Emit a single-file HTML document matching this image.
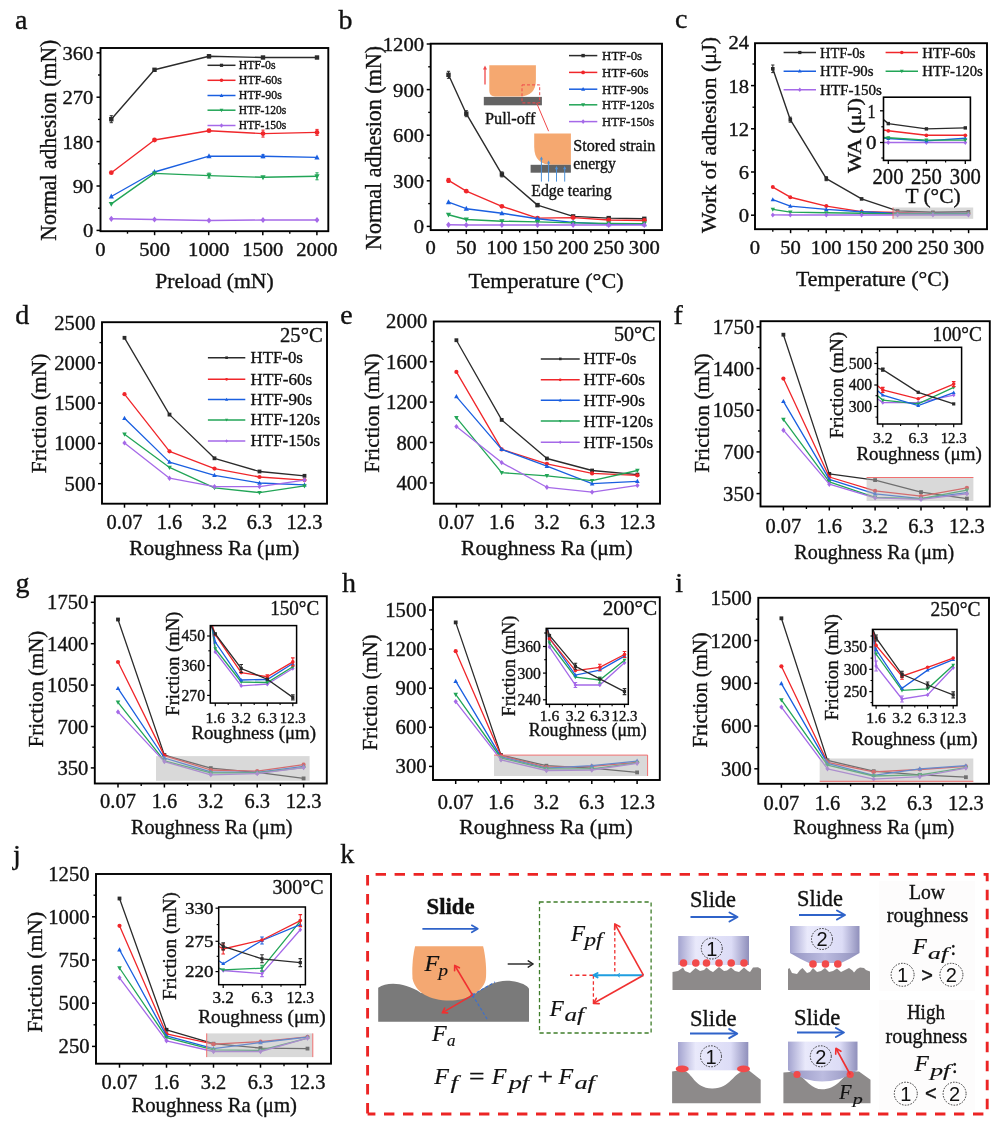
<!DOCTYPE html>
<html><head><meta charset="utf-8"><style>
html,body{margin:0;padding:0;background:#fff;}
svg{display:block;}
text{font-family:"Liberation Serif", "Times New Roman", serif;stroke:#111;stroke-width:0.35px;paint-order:stroke;}
</style></head><body>
<svg width="1000" height="1130" viewBox="0 0 1000 1130">
<rect width="1000" height="1130" fill="#fff"/>
<text x="15.0" y="29.4" font-size="28" text-anchor="start" fill="#111">a</text>
<rect x="100.5" y="48.0" width="227.8" height="183.2" fill="none" stroke="#000" stroke-width="1.9"/>
<line x1="96.5" y1="52.8" x2="100.5" y2="52.8" stroke="#000" stroke-width="1.5"/>
<line x1="96.5" y1="97.2" x2="100.5" y2="97.2" stroke="#000" stroke-width="1.5"/>
<line x1="96.5" y1="141.6" x2="100.5" y2="141.6" stroke="#000" stroke-width="1.5"/>
<line x1="96.5" y1="186.0" x2="100.5" y2="186.0" stroke="#000" stroke-width="1.5"/>
<line x1="96.5" y1="230.4" x2="100.5" y2="230.4" stroke="#000" stroke-width="1.5"/>
<line x1="98.0" y1="75.0" x2="100.5" y2="75.0" stroke="#000" stroke-width="1.35"/>
<line x1="98.0" y1="119.4" x2="100.5" y2="119.4" stroke="#000" stroke-width="1.35"/>
<line x1="98.0" y1="163.8" x2="100.5" y2="163.8" stroke="#000" stroke-width="1.35"/>
<line x1="98.0" y1="208.2" x2="100.5" y2="208.2" stroke="#000" stroke-width="1.35"/>
<line x1="154.6" y1="231.2" x2="154.6" y2="235.2" stroke="#000" stroke-width="1.5"/>
<line x1="208.7" y1="231.2" x2="208.7" y2="235.2" stroke="#000" stroke-width="1.5"/>
<line x1="262.8" y1="231.2" x2="262.8" y2="235.2" stroke="#000" stroke-width="1.5"/>
<line x1="316.9" y1="231.2" x2="316.9" y2="235.2" stroke="#000" stroke-width="1.5"/>
<line x1="127.5" y1="231.2" x2="127.5" y2="233.7" stroke="#000" stroke-width="1.35"/>
<line x1="181.6" y1="231.2" x2="181.6" y2="233.7" stroke="#000" stroke-width="1.35"/>
<line x1="235.7" y1="231.2" x2="235.7" y2="233.7" stroke="#000" stroke-width="1.35"/>
<line x1="289.8" y1="231.2" x2="289.8" y2="233.7" stroke="#000" stroke-width="1.35"/>
<text x="93.3" y="59.8" font-size="19.5" text-anchor="end" fill="#111" textLength="30.9" lengthAdjust="spacingAndGlyphs">360</text>
<text x="93.3" y="104.2" font-size="19.5" text-anchor="end" fill="#111" textLength="30.9" lengthAdjust="spacingAndGlyphs">270</text>
<text x="93.3" y="148.6" font-size="19.5" text-anchor="end" fill="#111" textLength="30.9" lengthAdjust="spacingAndGlyphs">180</text>
<text x="93.3" y="193.0" font-size="19.5" text-anchor="end" fill="#111" textLength="20.6" lengthAdjust="spacingAndGlyphs">90</text>
<text x="93.3" y="237.4" font-size="19.5" text-anchor="end" fill="#111" textLength="10.3" lengthAdjust="spacingAndGlyphs">0</text>
<text x="100.5" y="255.5" font-size="19.5" text-anchor="middle" fill="#111" textLength="10.3" lengthAdjust="spacingAndGlyphs">0</text>
<text x="154.6" y="255.5" font-size="19.5" text-anchor="middle" fill="#111" textLength="30.9" lengthAdjust="spacingAndGlyphs">500</text>
<text x="208.7" y="255.5" font-size="19.5" text-anchor="middle" fill="#111" textLength="41.2" lengthAdjust="spacingAndGlyphs">1000</text>
<text x="262.8" y="255.5" font-size="19.5" text-anchor="middle" fill="#111" textLength="41.2" lengthAdjust="spacingAndGlyphs">1500</text>
<text x="316.9" y="255.5" font-size="19.5" text-anchor="middle" fill="#111" textLength="41.2" lengthAdjust="spacingAndGlyphs">2000</text>
<text x="214.5" y="287.9" font-size="21.5" text-anchor="middle" fill="#111" textLength="118.3" lengthAdjust="spacingAndGlyphs">Preload (mN)</text>
<text x="55.8" y="140.2" font-size="22.5" text-anchor="middle" fill="#111" textLength="201.0" lengthAdjust="spacingAndGlyphs" transform="rotate(-90 55.8 140.2)">Normal adhesion (mN)</text>
<g>
<polyline points="111.3,119.2 154.5,69.8 209.0,56.3 263.0,57.5 317.0,57.5" fill="none" stroke="#2b2b2b" stroke-width="1.4" stroke-linejoin="round"/>
<rect x="109.1" y="117.0" width="4.4" height="4.4" fill="#2b2b2b"/>
<rect x="152.3" y="67.6" width="4.4" height="4.4" fill="#2b2b2b"/>
<rect x="206.8" y="54.1" width="4.4" height="4.4" fill="#2b2b2b"/>
<rect x="260.8" y="55.3" width="4.4" height="4.4" fill="#2b2b2b"/>
<rect x="314.8" y="55.3" width="4.4" height="4.4" fill="#2b2b2b"/>
</g>
<g>
<polyline points="111.3,172.7 154.5,140.0 209.0,130.7 263.0,133.6 317.0,132.4" fill="none" stroke="#f0262a" stroke-width="1.4" stroke-linejoin="round"/>
<circle cx="111.3" cy="172.7" r="2.4" fill="#f0262a"/>
<circle cx="154.5" cy="140.0" r="2.4" fill="#f0262a"/>
<circle cx="209.0" cy="130.7" r="2.4" fill="#f0262a"/>
<circle cx="263.0" cy="133.6" r="2.4" fill="#f0262a"/>
<circle cx="317.0" cy="132.4" r="2.4" fill="#f0262a"/>
</g>
<g>
<polyline points="111.3,196.5 154.5,172.0 209.0,156.2 263.0,156.2 317.0,157.4" fill="none" stroke="#1a5fe0" stroke-width="1.4" stroke-linejoin="round"/>
<path d="M111.3 193.6L113.9 198.5L108.7 198.5Z" fill="#1a5fe0"/>
<path d="M154.5 169.1L157.1 174.0L151.9 174.0Z" fill="#1a5fe0"/>
<path d="M209.0 153.3L211.6 158.2L206.4 158.2Z" fill="#1a5fe0"/>
<path d="M263.0 153.3L265.6 158.2L260.4 158.2Z" fill="#1a5fe0"/>
<path d="M317.0 154.5L319.6 159.4L314.4 159.4Z" fill="#1a5fe0"/>
</g>
<g>
<polyline points="111.3,203.9 154.5,173.4 209.0,175.6 263.0,177.3 317.0,176.3" fill="none" stroke="#22a557" stroke-width="1.4" stroke-linejoin="round"/>
<path d="M111.3 206.8L113.9 201.9L108.7 201.9Z" fill="#22a557"/>
<path d="M154.5 176.3L157.1 171.4L151.9 171.4Z" fill="#22a557"/>
<path d="M209.0 178.5L211.6 173.6L206.4 173.6Z" fill="#22a557"/>
<path d="M263.0 180.2L265.6 175.3L260.4 175.3Z" fill="#22a557"/>
<path d="M317.0 179.2L319.6 174.3L314.4 174.3Z" fill="#22a557"/>
</g>
<g>
<polyline points="111.3,218.8 154.5,219.5 209.0,220.5 263.0,220.0 317.0,220.0" fill="none" stroke="#a569e8" stroke-width="1.4" stroke-linejoin="round"/>
<path d="M111.3 215.7L113.7 218.8L111.3 221.9L108.9 218.8Z" fill="#a569e8"/>
<path d="M154.5 216.4L156.9 219.5L154.5 222.6L152.1 219.5Z" fill="#a569e8"/>
<path d="M209.0 217.4L211.4 220.5L209.0 223.6L206.6 220.5Z" fill="#a569e8"/>
<path d="M263.0 216.9L265.4 220.0L263.0 223.1L260.6 220.0Z" fill="#a569e8"/>
<path d="M317.0 216.9L319.4 220.0L317.0 223.1L314.6 220.0Z" fill="#a569e8"/>
</g>
<path d="M111.3 115.7V122.7M109.7 115.7H112.9M109.7 122.7H112.9" stroke="#2b2b2b" stroke-width="1.0" fill="none"/>
<path d="M209.0 54.8V57.8M207.4 54.8H210.6M207.4 57.8H210.6" stroke="#2b2b2b" stroke-width="1.0" fill="none"/>
<path d="M263.0 130.1V137.1M261.4 130.1H264.6M261.4 137.1H264.6" stroke="#f0262a" stroke-width="1.0" fill="none"/>
<path d="M317.0 129.4V135.4M315.4 129.4H318.6M315.4 135.4H318.6" stroke="#f0262a" stroke-width="1.0" fill="none"/>
<path d="M209.0 173.1V178.1M207.4 173.1H210.6M207.4 178.1H210.6" stroke="#22a557" stroke-width="1.0" fill="none"/>
<path d="M317.0 172.8V179.8M315.4 172.8H318.6M315.4 179.8H318.6" stroke="#22a557" stroke-width="1.0" fill="none"/>
<path d="M263.0 154.7V157.7M261.4 154.7H264.6M261.4 157.7H264.6" stroke="#1a5fe0" stroke-width="1.0" fill="none"/>
<line x1="207.5" y1="65.3" x2="235.5" y2="65.3" stroke="#2b2b2b" stroke-width="1.5"/>
<rect x="219.9" y="63.7" width="3.2" height="3.2" fill="#2b2b2b"/>
<text x="238.8" y="69.2" font-size="11.5" text-anchor="start" fill="#111" textLength="36.7" lengthAdjust="spacingAndGlyphs">HTF-0s</text>
<line x1="207.5" y1="80.3" x2="235.5" y2="80.3" stroke="#f0262a" stroke-width="1.5"/>
<circle cx="221.5" cy="80.3" r="1.8" fill="#f0262a"/>
<text x="238.8" y="84.2" font-size="11.5" text-anchor="start" fill="#111" textLength="43.0" lengthAdjust="spacingAndGlyphs">HTF-60s</text>
<line x1="207.5" y1="95.5" x2="235.5" y2="95.5" stroke="#1a5fe0" stroke-width="1.5"/>
<path d="M221.5 93.4L223.4 96.9L219.6 96.9Z" fill="#1a5fe0"/>
<text x="238.8" y="99.4" font-size="11.5" text-anchor="start" fill="#111" textLength="43.0" lengthAdjust="spacingAndGlyphs">HTF-90s</text>
<line x1="207.5" y1="110.2" x2="235.5" y2="110.2" stroke="#22a557" stroke-width="1.5"/>
<path d="M221.5 112.3L223.4 108.8L219.6 108.8Z" fill="#22a557"/>
<text x="238.8" y="114.1" font-size="11.5" text-anchor="start" fill="#111" textLength="47.5" lengthAdjust="spacingAndGlyphs">HTF-120s</text>
<line x1="207.5" y1="125.5" x2="235.5" y2="125.5" stroke="#a569e8" stroke-width="1.5"/>
<path d="M221.5 123.3L223.3 125.5L221.5 127.7L219.7 125.5Z" fill="#a569e8"/>
<text x="238.8" y="129.4" font-size="11.5" text-anchor="start" fill="#111" textLength="47.5" lengthAdjust="spacingAndGlyphs">HTF-150s</text>
<text x="338.4" y="29.4" font-size="28" text-anchor="start" fill="#111">b</text>
<rect x="430.7" y="43.7" width="231.3" height="186.4" fill="none" stroke="#000" stroke-width="1.9"/>
<line x1="426.7" y1="44.0" x2="430.7" y2="44.0" stroke="#000" stroke-width="1.5"/>
<line x1="426.7" y1="89.6" x2="430.7" y2="89.6" stroke="#000" stroke-width="1.5"/>
<line x1="426.7" y1="135.2" x2="430.7" y2="135.2" stroke="#000" stroke-width="1.5"/>
<line x1="426.7" y1="180.8" x2="430.7" y2="180.8" stroke="#000" stroke-width="1.5"/>
<line x1="426.7" y1="226.4" x2="430.7" y2="226.4" stroke="#000" stroke-width="1.5"/>
<line x1="428.2" y1="66.8" x2="430.7" y2="66.8" stroke="#000" stroke-width="1.35"/>
<line x1="428.2" y1="112.4" x2="430.7" y2="112.4" stroke="#000" stroke-width="1.35"/>
<line x1="428.2" y1="158.0" x2="430.7" y2="158.0" stroke="#000" stroke-width="1.35"/>
<line x1="428.2" y1="203.6" x2="430.7" y2="203.6" stroke="#000" stroke-width="1.35"/>
<line x1="466.3" y1="230.1" x2="466.3" y2="234.1" stroke="#000" stroke-width="1.5"/>
<line x1="501.9" y1="230.1" x2="501.9" y2="234.1" stroke="#000" stroke-width="1.5"/>
<line x1="537.5" y1="230.1" x2="537.5" y2="234.1" stroke="#000" stroke-width="1.5"/>
<line x1="573.1" y1="230.1" x2="573.1" y2="234.1" stroke="#000" stroke-width="1.5"/>
<line x1="608.7" y1="230.1" x2="608.7" y2="234.1" stroke="#000" stroke-width="1.5"/>
<line x1="644.3" y1="230.1" x2="644.3" y2="234.1" stroke="#000" stroke-width="1.5"/>
<line x1="448.5" y1="230.1" x2="448.5" y2="232.6" stroke="#000" stroke-width="1.35"/>
<line x1="484.1" y1="230.1" x2="484.1" y2="232.6" stroke="#000" stroke-width="1.35"/>
<line x1="519.7" y1="230.1" x2="519.7" y2="232.6" stroke="#000" stroke-width="1.35"/>
<line x1="555.3" y1="230.1" x2="555.3" y2="232.6" stroke="#000" stroke-width="1.35"/>
<line x1="590.9" y1="230.1" x2="590.9" y2="232.6" stroke="#000" stroke-width="1.35"/>
<line x1="626.5" y1="230.1" x2="626.5" y2="232.6" stroke="#000" stroke-width="1.35"/>
<text x="424.0" y="51.0" font-size="19.5" text-anchor="end" fill="#111" textLength="41.2" lengthAdjust="spacingAndGlyphs">1200</text>
<text x="424.0" y="96.6" font-size="19.5" text-anchor="end" fill="#111" textLength="30.9" lengthAdjust="spacingAndGlyphs">900</text>
<text x="424.0" y="142.2" font-size="19.5" text-anchor="end" fill="#111" textLength="30.9" lengthAdjust="spacingAndGlyphs">600</text>
<text x="424.0" y="187.8" font-size="19.5" text-anchor="end" fill="#111" textLength="30.9" lengthAdjust="spacingAndGlyphs">300</text>
<text x="424.0" y="233.4" font-size="19.5" text-anchor="end" fill="#111" textLength="10.3" lengthAdjust="spacingAndGlyphs">0</text>
<text x="430.7" y="253.5" font-size="19.5" text-anchor="middle" fill="#111" textLength="10.3" lengthAdjust="spacingAndGlyphs">0</text>
<text x="466.3" y="253.5" font-size="19.5" text-anchor="middle" fill="#111" textLength="20.6" lengthAdjust="spacingAndGlyphs">50</text>
<text x="501.9" y="253.5" font-size="19.5" text-anchor="middle" fill="#111" textLength="30.9" lengthAdjust="spacingAndGlyphs">100</text>
<text x="537.5" y="253.5" font-size="19.5" text-anchor="middle" fill="#111" textLength="30.9" lengthAdjust="spacingAndGlyphs">150</text>
<text x="573.1" y="253.5" font-size="19.5" text-anchor="middle" fill="#111" textLength="30.9" lengthAdjust="spacingAndGlyphs">200</text>
<text x="608.7" y="253.5" font-size="19.5" text-anchor="middle" fill="#111" textLength="30.9" lengthAdjust="spacingAndGlyphs">250</text>
<text x="644.3" y="253.5" font-size="19.5" text-anchor="middle" fill="#111" textLength="30.9" lengthAdjust="spacingAndGlyphs">300</text>
<text x="546.0" y="287.9" font-size="21.5" text-anchor="middle" fill="#111" textLength="155.0" lengthAdjust="spacingAndGlyphs">Temperature (°C)</text>
<text x="381.0" y="148.0" font-size="22.5" text-anchor="middle" fill="#111" textLength="204.0" lengthAdjust="spacingAndGlyphs" transform="rotate(-90 381.0 148.0)">Normal adhesion (mN)</text>
<g>
<polyline points="448.5,74.8 466.3,113.7 501.9,174.4 537.5,205.1 573.1,216.4 608.7,218.1 644.3,218.8" fill="none" stroke="#2b2b2b" stroke-width="1.4" stroke-linejoin="round"/>
<rect x="446.3" y="72.6" width="4.4" height="4.4" fill="#2b2b2b"/>
<rect x="464.1" y="111.5" width="4.4" height="4.4" fill="#2b2b2b"/>
<rect x="499.7" y="172.2" width="4.4" height="4.4" fill="#2b2b2b"/>
<rect x="535.3" y="202.9" width="4.4" height="4.4" fill="#2b2b2b"/>
<rect x="570.9" y="214.2" width="4.4" height="4.4" fill="#2b2b2b"/>
<rect x="606.5" y="215.9" width="4.4" height="4.4" fill="#2b2b2b"/>
<rect x="642.1" y="216.6" width="4.4" height="4.4" fill="#2b2b2b"/>
</g>
<g>
<polyline points="448.5,180.4 466.3,191.2 501.9,206.3 537.5,218.1 573.1,217.6 608.7,220.0 644.3,220.5" fill="none" stroke="#f0262a" stroke-width="1.4" stroke-linejoin="round"/>
<circle cx="448.5" cy="180.4" r="2.4" fill="#f0262a"/>
<circle cx="466.3" cy="191.2" r="2.4" fill="#f0262a"/>
<circle cx="501.9" cy="206.3" r="2.4" fill="#f0262a"/>
<circle cx="537.5" cy="218.1" r="2.4" fill="#f0262a"/>
<circle cx="573.1" cy="217.6" r="2.4" fill="#f0262a"/>
<circle cx="608.7" cy="220.0" r="2.4" fill="#f0262a"/>
<circle cx="644.3" cy="220.5" r="2.4" fill="#f0262a"/>
</g>
<g>
<polyline points="448.5,202.2 466.3,208.7 501.9,213.3 537.5,218.8 573.1,222.4 608.7,224.3 644.3,224.3" fill="none" stroke="#1a5fe0" stroke-width="1.4" stroke-linejoin="round"/>
<path d="M448.5 199.3L451.1 204.2L445.9 204.2Z" fill="#1a5fe0"/>
<path d="M466.3 205.8L468.9 210.7L463.7 210.7Z" fill="#1a5fe0"/>
<path d="M501.9 210.4L504.5 215.3L499.3 215.3Z" fill="#1a5fe0"/>
<path d="M537.5 215.9L540.1 220.8L534.9 220.8Z" fill="#1a5fe0"/>
<path d="M573.1 219.5L575.7 224.4L570.5 224.4Z" fill="#1a5fe0"/>
<path d="M608.7 221.4L611.3 226.3L606.1 226.3Z" fill="#1a5fe0"/>
<path d="M644.3 221.4L646.9 226.3L641.7 226.3Z" fill="#1a5fe0"/>
</g>
<g>
<polyline points="448.5,214.7 466.3,219.5 501.9,221.2 537.5,221.9 573.1,222.9 608.7,223.4 644.3,223.6" fill="none" stroke="#22a557" stroke-width="1.4" stroke-linejoin="round"/>
<path d="M448.5 217.6L451.1 212.7L445.9 212.7Z" fill="#22a557"/>
<path d="M466.3 222.4L468.9 217.5L463.7 217.5Z" fill="#22a557"/>
<path d="M501.9 224.1L504.5 219.2L499.3 219.2Z" fill="#22a557"/>
<path d="M537.5 224.8L540.1 219.9L534.9 219.9Z" fill="#22a557"/>
<path d="M573.1 225.8L575.7 220.9L570.5 220.9Z" fill="#22a557"/>
<path d="M608.7 226.3L611.3 221.4L606.1 221.4Z" fill="#22a557"/>
<path d="M644.3 226.5L646.9 221.6L641.7 221.6Z" fill="#22a557"/>
</g>
<g>
<polyline points="448.5,224.8 466.3,225.0 501.9,225.0 537.5,225.0 573.1,225.0 608.7,225.0 644.3,225.0" fill="none" stroke="#a569e8" stroke-width="1.4" stroke-linejoin="round"/>
<path d="M448.5 221.7L450.9 224.8L448.5 227.9L446.1 224.8Z" fill="#a569e8"/>
<path d="M466.3 221.9L468.7 225.0L466.3 228.1L463.9 225.0Z" fill="#a569e8"/>
<path d="M501.9 221.9L504.3 225.0L501.9 228.1L499.5 225.0Z" fill="#a569e8"/>
<path d="M537.5 221.9L539.9 225.0L537.5 228.1L535.1 225.0Z" fill="#a569e8"/>
<path d="M573.1 221.9L575.5 225.0L573.1 228.1L570.7 225.0Z" fill="#a569e8"/>
<path d="M608.7 221.9L611.1 225.0L608.7 228.1L606.3 225.0Z" fill="#a569e8"/>
<path d="M644.3 221.9L646.7 225.0L644.3 228.1L641.9 225.0Z" fill="#a569e8"/>
</g>
<path d="M448.5 71.3V78.3M446.9 71.3H450.1M446.9 78.3H450.1" stroke="#2b2b2b" stroke-width="1.0" fill="none"/>
<path d="M466.3 110.7V116.7M464.7 110.7H467.9M464.7 116.7H467.9" stroke="#2b2b2b" stroke-width="1.0" fill="none"/>
<path d="M501.9 171.9V176.9M500.3 171.9H503.5M500.3 176.9H503.5" stroke="#2b2b2b" stroke-width="1.0" fill="none"/>
<path d="M448.5 178.4V182.4M446.9 178.4H450.1M446.9 182.4H450.1" stroke="#f0262a" stroke-width="1.0" fill="none"/>
<path d="M537.5 203.6V206.6M535.9 203.6H539.1M535.9 206.6H539.1" stroke="#2b2b2b" stroke-width="1.0" fill="none"/>
<line x1="569.0" y1="55.6" x2="597.3" y2="55.6" stroke="#2b2b2b" stroke-width="1.5"/>
<rect x="581.4" y="53.9" width="3.4" height="3.4" fill="#2b2b2b"/>
<text x="602.1" y="60.0" font-size="13" text-anchor="start" fill="#111" textLength="40.0" lengthAdjust="spacingAndGlyphs">HTF-0s</text>
<line x1="569.0" y1="72.4" x2="597.3" y2="72.4" stroke="#f0262a" stroke-width="1.5"/>
<circle cx="583.1" cy="72.4" r="1.9" fill="#f0262a"/>
<text x="602.1" y="76.8" font-size="13" text-anchor="start" fill="#111" textLength="46.5" lengthAdjust="spacingAndGlyphs">HTF-60s</text>
<line x1="569.0" y1="89.2" x2="597.3" y2="89.2" stroke="#1a5fe0" stroke-width="1.5"/>
<path d="M583.1 87.0L585.2 90.7L581.1 90.7Z" fill="#1a5fe0"/>
<text x="602.1" y="93.6" font-size="13" text-anchor="start" fill="#111" textLength="46.5" lengthAdjust="spacingAndGlyphs">HTF-90s</text>
<line x1="569.0" y1="104.8" x2="597.3" y2="104.8" stroke="#22a557" stroke-width="1.5"/>
<path d="M583.1 107.0L585.2 103.3L581.1 103.3Z" fill="#22a557"/>
<text x="602.1" y="109.2" font-size="13" text-anchor="start" fill="#111" textLength="52.0" lengthAdjust="spacingAndGlyphs">HTF-120s</text>
<line x1="569.0" y1="121.6" x2="597.3" y2="121.6" stroke="#a569e8" stroke-width="1.5"/>
<path d="M583.1 119.2L585.0 121.6L583.1 124.0L581.3 121.6Z" fill="#a569e8"/>
<text x="602.1" y="126.0" font-size="13" text-anchor="start" fill="#111" textLength="52.0" lengthAdjust="spacingAndGlyphs">HTF-150s</text>
<path d="M489.3 65.2H535.9V80Q535.9 96.4 519.5 96.4H495Q489.3 96.4 489.3 90.7Z" fill="#f5a870"/>
<rect x="483.8" y="96.9" width="58.1" height="8.4" fill="#636363"/>
<line x1="485" y1="84.4" x2="485" y2="68" stroke="#f0484a" stroke-width="1.3"/>
<path d="M485 65.5L483 69.5H487Z" fill="#f0484a"/>
<rect x="522" y="84.9" width="17.7" height="18" fill="none" stroke="#f0484a" stroke-width="1" stroke-dasharray="3 2"/>
<line x1="536.6" y1="102.9" x2="548.6" y2="131.2" stroke="#f0484a" stroke-width="1"/>
<text x="485.0" y="124.0" font-size="16" text-anchor="start" fill="#111" textLength="50.4" lengthAdjust="spacingAndGlyphs">Pull-off</text>
<path d="M534.2 133.6H570.9V164.8H552.2Q534.2 164.8 534.2 146.8Z" fill="#f5a870"/>
<rect x="530.6" y="164.8" width="40.3" height="7.9" fill="#636363"/>
<line x1="541.4" y1="181.6" x2="541.4" y2="158.4" stroke="#4a90d9" stroke-width="1"/>
<path d="M541.4 156.4L539.8 159.6H543.0Z" fill="#4a90d9"/>
<line x1="548.6" y1="181.6" x2="548.6" y2="162.4" stroke="#4a90d9" stroke-width="1"/>
<path d="M548.6 160.4L547.0 163.6H550.2Z" fill="#4a90d9"/>
<line x1="556.5" y1="181.6" x2="556.5" y2="168.0" stroke="#4a90d9" stroke-width="1"/>
<path d="M556.5 166.0L554.9 169.2H558.1Z" fill="#4a90d9"/>
<line x1="564.7" y1="181.6" x2="564.7" y2="168.0" stroke="#4a90d9" stroke-width="1"/>
<path d="M564.7 166.0L563.1 169.2H566.3000000000001Z" fill="#4a90d9"/>
<text x="573.3" y="150.9" font-size="16" text-anchor="start" fill="#111" textLength="82.0" lengthAdjust="spacingAndGlyphs">Stored strain</text>
<text x="573.3" y="169.3" font-size="16" text-anchor="start" fill="#111" textLength="42.5" lengthAdjust="spacingAndGlyphs">energy</text>
<text x="531.3" y="196.0" font-size="16" text-anchor="start" fill="#111" textLength="80.4" lengthAdjust="spacingAndGlyphs">Edge tearing</text>
<text x="675.0" y="28.2" font-size="28" text-anchor="start" fill="#111">c</text>
<rect x="755.0" y="43.2" width="232.0" height="186.0" fill="none" stroke="#000" stroke-width="1.9"/>
<line x1="751.0" y1="85.6" x2="755.0" y2="85.6" stroke="#000" stroke-width="1.5"/>
<line x1="751.0" y1="128.8" x2="755.0" y2="128.8" stroke="#000" stroke-width="1.5"/>
<line x1="751.0" y1="172.0" x2="755.0" y2="172.0" stroke="#000" stroke-width="1.5"/>
<line x1="751.0" y1="215.2" x2="755.0" y2="215.2" stroke="#000" stroke-width="1.5"/>
<line x1="752.5" y1="64.0" x2="755.0" y2="64.0" stroke="#000" stroke-width="1.35"/>
<line x1="752.5" y1="107.2" x2="755.0" y2="107.2" stroke="#000" stroke-width="1.35"/>
<line x1="752.5" y1="150.4" x2="755.0" y2="150.4" stroke="#000" stroke-width="1.35"/>
<line x1="752.5" y1="193.6" x2="755.0" y2="193.6" stroke="#000" stroke-width="1.35"/>
<line x1="790.6" y1="229.2" x2="790.6" y2="233.2" stroke="#000" stroke-width="1.5"/>
<line x1="826.2" y1="229.2" x2="826.2" y2="233.2" stroke="#000" stroke-width="1.5"/>
<line x1="861.8" y1="229.2" x2="861.8" y2="233.2" stroke="#000" stroke-width="1.5"/>
<line x1="897.4" y1="229.2" x2="897.4" y2="233.2" stroke="#000" stroke-width="1.5"/>
<line x1="933.0" y1="229.2" x2="933.0" y2="233.2" stroke="#000" stroke-width="1.5"/>
<line x1="968.6" y1="229.2" x2="968.6" y2="233.2" stroke="#000" stroke-width="1.5"/>
<line x1="772.8" y1="229.2" x2="772.8" y2="231.7" stroke="#000" stroke-width="1.35"/>
<line x1="808.4" y1="229.2" x2="808.4" y2="231.7" stroke="#000" stroke-width="1.35"/>
<line x1="844.0" y1="229.2" x2="844.0" y2="231.7" stroke="#000" stroke-width="1.35"/>
<line x1="879.6" y1="229.2" x2="879.6" y2="231.7" stroke="#000" stroke-width="1.35"/>
<line x1="915.2" y1="229.2" x2="915.2" y2="231.7" stroke="#000" stroke-width="1.35"/>
<line x1="950.8" y1="229.2" x2="950.8" y2="231.7" stroke="#000" stroke-width="1.35"/>
<text x="749.0" y="49.4" font-size="19.5" text-anchor="end" fill="#111" textLength="20.6" lengthAdjust="spacingAndGlyphs">24</text>
<text x="749.0" y="92.6" font-size="19.5" text-anchor="end" fill="#111" textLength="20.6" lengthAdjust="spacingAndGlyphs">18</text>
<text x="749.0" y="135.8" font-size="19.5" text-anchor="end" fill="#111" textLength="20.6" lengthAdjust="spacingAndGlyphs">12</text>
<text x="749.0" y="179.0" font-size="19.5" text-anchor="end" fill="#111" textLength="10.3" lengthAdjust="spacingAndGlyphs">6</text>
<text x="749.0" y="222.2" font-size="19.5" text-anchor="end" fill="#111" textLength="10.3" lengthAdjust="spacingAndGlyphs">0</text>
<text x="755.0" y="253.5" font-size="19.5" text-anchor="middle" fill="#111" textLength="10.3" lengthAdjust="spacingAndGlyphs">0</text>
<text x="790.6" y="253.5" font-size="19.5" text-anchor="middle" fill="#111" textLength="20.6" lengthAdjust="spacingAndGlyphs">50</text>
<text x="826.2" y="253.5" font-size="19.5" text-anchor="middle" fill="#111" textLength="30.9" lengthAdjust="spacingAndGlyphs">100</text>
<text x="861.8" y="253.5" font-size="19.5" text-anchor="middle" fill="#111" textLength="30.9" lengthAdjust="spacingAndGlyphs">150</text>
<text x="897.4" y="253.5" font-size="19.5" text-anchor="middle" fill="#111" textLength="30.9" lengthAdjust="spacingAndGlyphs">200</text>
<text x="933.0" y="253.5" font-size="19.5" text-anchor="middle" fill="#111" textLength="30.9" lengthAdjust="spacingAndGlyphs">250</text>
<text x="968.6" y="253.5" font-size="19.5" text-anchor="middle" fill="#111" textLength="30.9" lengthAdjust="spacingAndGlyphs">300</text>
<text x="872.5" y="285.7" font-size="21.5" text-anchor="middle" fill="#111" textLength="153.0" lengthAdjust="spacingAndGlyphs">Temperature (°C)</text>
<text x="715.5" y="135.0" font-size="21.5" text-anchor="middle" fill="#111" textLength="196.0" lengthAdjust="spacingAndGlyphs" transform="rotate(-90 715.5 135.0)">Work of adhesion (μJ)</text>
<g>
<polyline points="772.8,68.8 790.3,119.7 826.3,178.7 861.6,198.9 897.6,210.9 932.9,212.3 968.4,211.8" fill="none" stroke="#2b2b2b" stroke-width="1.4" stroke-linejoin="round"/>
<rect x="771.0" y="67.0" width="3.6" height="3.6" fill="#2b2b2b"/>
<rect x="788.5" y="117.9" width="3.6" height="3.6" fill="#2b2b2b"/>
<rect x="824.5" y="176.9" width="3.6" height="3.6" fill="#2b2b2b"/>
<rect x="859.8" y="197.1" width="3.6" height="3.6" fill="#2b2b2b"/>
<rect x="895.8" y="209.1" width="3.6" height="3.6" fill="#2b2b2b"/>
<rect x="931.1" y="210.5" width="3.6" height="3.6" fill="#2b2b2b"/>
<rect x="966.6" y="210.0" width="3.6" height="3.6" fill="#2b2b2b"/>
</g>
<g>
<polyline points="772.8,187.1 790.3,197.2 826.3,206.1 861.6,211.6 897.6,212.5 932.9,213.4 968.4,213.4" fill="none" stroke="#f0262a" stroke-width="1.4" stroke-linejoin="round"/>
<circle cx="772.8" cy="187.1" r="2.0" fill="#f0262a"/>
<circle cx="790.3" cy="197.2" r="2.0" fill="#f0262a"/>
<circle cx="826.3" cy="206.1" r="2.0" fill="#f0262a"/>
<circle cx="861.6" cy="211.6" r="2.0" fill="#f0262a"/>
<circle cx="897.6" cy="212.5" r="2.0" fill="#f0262a"/>
<circle cx="932.9" cy="213.4" r="2.0" fill="#f0262a"/>
<circle cx="968.4" cy="213.4" r="2.0" fill="#f0262a"/>
</g>
<g>
<polyline points="772.8,199.6 790.3,206.1 826.3,209.4 861.6,211.8 897.6,213.5 932.9,213.5 968.4,213.5" fill="none" stroke="#1a5fe0" stroke-width="1.4" stroke-linejoin="round"/>
<path d="M772.8 197.3L775.0 201.2L770.6 201.2Z" fill="#1a5fe0"/>
<path d="M790.3 203.8L792.5 207.7L788.1 207.7Z" fill="#1a5fe0"/>
<path d="M826.3 207.1L828.5 211.0L824.1 211.0Z" fill="#1a5fe0"/>
<path d="M861.6 209.5L863.8 213.4L859.4 213.4Z" fill="#1a5fe0"/>
<path d="M897.6 211.2L899.8 215.1L895.4 215.1Z" fill="#1a5fe0"/>
<path d="M932.9 211.2L935.1 215.1L930.7 215.1Z" fill="#1a5fe0"/>
<path d="M968.4 211.2L970.6 215.1L966.2 215.1Z" fill="#1a5fe0"/>
</g>
<g>
<polyline points="772.8,209.4 790.3,212.1 826.3,212.8 861.6,213.3 897.6,214.0 932.9,214.0 968.4,214.0" fill="none" stroke="#22a557" stroke-width="1.4" stroke-linejoin="round"/>
<path d="M772.8 211.7L775.0 207.8L770.6 207.8Z" fill="#22a557"/>
<path d="M790.3 214.4L792.5 210.5L788.1 210.5Z" fill="#22a557"/>
<path d="M826.3 215.1L828.5 211.2L824.1 211.2Z" fill="#22a557"/>
<path d="M861.6 215.6L863.8 211.7L859.4 211.7Z" fill="#22a557"/>
<path d="M897.6 216.3L899.8 212.4L895.4 212.4Z" fill="#22a557"/>
<path d="M932.9 216.3L935.1 212.4L930.7 212.4Z" fill="#22a557"/>
<path d="M968.4 216.3L970.6 212.4L966.2 212.4Z" fill="#22a557"/>
</g>
<g>
<polyline points="772.8,214.9 790.3,215.0 826.3,215.0 861.6,215.0 897.6,215.0 932.9,215.0 968.4,215.0" fill="none" stroke="#a569e8" stroke-width="1.4" stroke-linejoin="round"/>
<path d="M772.8 212.4L774.8 214.9L772.8 217.4L770.8 214.9Z" fill="#a569e8"/>
<path d="M790.3 212.5L792.3 215.0L790.3 217.5L788.3 215.0Z" fill="#a569e8"/>
<path d="M826.3 212.5L828.3 215.0L826.3 217.5L824.3 215.0Z" fill="#a569e8"/>
<path d="M861.6 212.5L863.6 215.0L861.6 217.5L859.6 215.0Z" fill="#a569e8"/>
<path d="M897.6 212.5L899.6 215.0L897.6 217.5L895.6 215.0Z" fill="#a569e8"/>
<path d="M932.9 212.5L934.9 215.0L932.9 217.5L930.9 215.0Z" fill="#a569e8"/>
<path d="M968.4 212.5L970.4 215.0L968.4 217.5L966.4 215.0Z" fill="#a569e8"/>
</g>
<path d="M772.8 65.0V72.6M771.2 65.0H774.4M771.2 72.6H774.4" stroke="#2b2b2b" stroke-width="1.0" fill="none"/>
<path d="M790.3 117.2V122.2M788.7 117.2H791.9M788.7 122.2H791.9" stroke="#2b2b2b" stroke-width="1.0" fill="none"/>
<path d="M826.3 176.7V180.7M824.7 176.7H827.9M824.7 180.7H827.9" stroke="#2b2b2b" stroke-width="1.0" fill="none"/>
<rect x="892.8" y="207.5" width="80.4" height="11.3" fill="#b4b4b4" fill-opacity="0.5"/>
<line x1="893" y1="207.5" x2="893" y2="218.8" stroke="#f06060" stroke-width="0.8"/>
<line x1="783.6" y1="52.5" x2="816" y2="52.5" stroke="#2b2b2b" stroke-width="1.5"/>
<rect x="798.2" y="50.9" width="3.2" height="3.2" fill="#2b2b2b"/>
<text x="820.0" y="57.5" font-size="14.5" text-anchor="start" fill="#111" textLength="45.0" lengthAdjust="spacingAndGlyphs">HTF-0s</text>
<line x1="885.6" y1="52.5" x2="918" y2="52.5" stroke="#f0262a" stroke-width="1.5"/>
<circle cx="901.8" cy="52.5" r="1.8" fill="#f0262a"/>
<text x="922.3" y="57.5" font-size="14.5" text-anchor="start" fill="#111" textLength="53.3" lengthAdjust="spacingAndGlyphs">HTF-60s</text>
<line x1="783.6" y1="71.2" x2="816" y2="71.2" stroke="#1a5fe0" stroke-width="1.5"/>
<path d="M799.8 69.1L801.7 72.6L797.9 72.6Z" fill="#1a5fe0"/>
<text x="820.0" y="76.2" font-size="14.5" text-anchor="start" fill="#111" textLength="53.5" lengthAdjust="spacingAndGlyphs">HTF-90s</text>
<line x1="885.6" y1="71.2" x2="918" y2="71.2" stroke="#22a557" stroke-width="1.5"/>
<path d="M901.8 73.3L903.7 69.8L899.9 69.8Z" fill="#22a557"/>
<text x="922.3" y="76.2" font-size="14.5" text-anchor="start" fill="#111" textLength="60.5" lengthAdjust="spacingAndGlyphs">HTF-120s</text>
<line x1="783.6" y1="89.7" x2="816" y2="89.7" stroke="#a569e8" stroke-width="1.5"/>
<path d="M799.8 87.5L801.6 89.7L799.8 91.9L798.0 89.7Z" fill="#a569e8"/>
<text x="820.0" y="94.7" font-size="14.5" text-anchor="start" fill="#111" textLength="62.0" lengthAdjust="spacingAndGlyphs">HTF-150s</text>
<rect x="883.5" y="97.2" width="86.9" height="63.2" fill="#fff"/>
<clipPath id="cl1"><rect x="883.5" y="97.2" width="86.9" height="63.2"/></clipPath>
<g clip-path="url(#cl1)">
<polyline points="883.5,142.5 888.3,142.5 926.4,142.5 965.3,142.5" fill="none" stroke="#a569e8" stroke-width="1.4"/>
<path d="M888.3 140.1L890.2 142.5L888.3 144.9L886.4 142.5Z" fill="#a569e8"/>
<path d="M926.4 140.1L928.3 142.5L926.4 144.9L924.5 142.5Z" fill="#a569e8"/>
<path d="M965.3 140.1L967.2 142.5L965.3 144.9L963.4 142.5Z" fill="#a569e8"/>
</g>
<g clip-path="url(#cl1)">
<polyline points="883.5,138.0 888.3,138.5 926.4,140.9 965.3,138.3" fill="none" stroke="#1a5fe0" stroke-width="1.4"/>
<path d="M888.3 136.3L890.3 140.0L886.3 140.0Z" fill="#1a5fe0"/>
<path d="M926.4 138.7L928.4 142.4L924.4 142.4Z" fill="#1a5fe0"/>
<path d="M965.3 136.1L967.3 139.8L963.3 139.8Z" fill="#1a5fe0"/>
</g>
<g clip-path="url(#cl1)">
<polyline points="883.5,137.5 888.3,137.7 926.4,140.1 965.3,140.1" fill="none" stroke="#22a557" stroke-width="1.4"/>
<path d="M888.3 139.9L890.3 136.2L886.3 136.2Z" fill="#22a557"/>
<path d="M926.4 142.3L928.4 138.6L924.4 138.6Z" fill="#22a557"/>
<path d="M965.3 142.3L967.3 138.6L963.3 138.6Z" fill="#22a557"/>
</g>
<g clip-path="url(#cl1)">
<polyline points="883.5,130.0 888.3,130.8 926.4,135.3 965.3,135.3" fill="none" stroke="#f0262a" stroke-width="1.4"/>
<circle cx="888.3" cy="130.8" r="1.9" fill="#f0262a"/>
<circle cx="926.4" cy="135.3" r="1.9" fill="#f0262a"/>
<circle cx="965.3" cy="135.3" r="1.9" fill="#f0262a"/>
</g>
<g clip-path="url(#cl1)">
<polyline points="883.5,119.6 888.3,123.6 926.4,128.9 965.3,127.9" fill="none" stroke="#2b2b2b" stroke-width="1.4"/>
<rect x="886.6" y="121.9" width="3.4" height="3.4" fill="#2b2b2b"/>
<rect x="924.7" y="127.2" width="3.4" height="3.4" fill="#2b2b2b"/>
<rect x="963.6" y="126.2" width="3.4" height="3.4" fill="#2b2b2b"/>
</g>
<rect x="883.5" y="97.2" width="86.9" height="63.2" fill="none" stroke="#000" stroke-width="1.6"/>
<line x1="880.0" y1="110.8" x2="883.5" y2="110.8" stroke="#000" stroke-width="1.3"/>
<line x1="880.0" y1="142.5" x2="883.5" y2="142.5" stroke="#000" stroke-width="1.3"/>
<line x1="881.3" y1="126.8" x2="883.5" y2="126.8" stroke="#000" stroke-width="1.1700000000000002"/>
<line x1="881.3" y1="158.0" x2="883.5" y2="158.0" stroke="#000" stroke-width="1.1700000000000002"/>
<line x1="888.3" y1="160.4" x2="888.3" y2="163.9" stroke="#000" stroke-width="1.3"/>
<line x1="926.4" y1="160.4" x2="926.4" y2="163.9" stroke="#000" stroke-width="1.3"/>
<line x1="965.3" y1="160.4" x2="965.3" y2="163.9" stroke="#000" stroke-width="1.3"/>
<line x1="907.2" y1="160.4" x2="907.2" y2="162.6" stroke="#000" stroke-width="1.1700000000000002"/>
<line x1="945.6" y1="160.4" x2="945.6" y2="162.6" stroke="#000" stroke-width="1.1700000000000002"/>
<text x="875.5" y="117.6" font-size="19" text-anchor="end" fill="#111" textLength="8.0" lengthAdjust="spacingAndGlyphs">1</text>
<text x="876.5" y="148.6" font-size="19" text-anchor="end" fill="#111" textLength="10.5" lengthAdjust="spacingAndGlyphs">0</text>
<text x="888.0" y="184.4" font-size="23" text-anchor="middle" fill="#111" textLength="31.0" lengthAdjust="spacingAndGlyphs">200</text>
<text x="926.4" y="184.4" font-size="23" text-anchor="middle" fill="#111" textLength="31.0" lengthAdjust="spacingAndGlyphs">250</text>
<text x="965.3" y="184.4" font-size="23" text-anchor="middle" fill="#111" textLength="31.0" lengthAdjust="spacingAndGlyphs">300</text>
<text x="933.0" y="202.8" font-size="21" text-anchor="middle" fill="#111" textLength="55.0" lengthAdjust="spacingAndGlyphs">T (°C)</text>
<text x="861.5" y="135.6" font-size="19" text-anchor="middle" fill="#111" textLength="75.0" lengthAdjust="spacingAndGlyphs" transform="rotate(-90 861.5 135.6)">WA (μJ)</text>
<text x="15.3" y="324.0" font-size="28" text-anchor="start" fill="#111">d</text>
<g>
<polyline points="124.5,337.8 169.5,414.6 214.5,458.3 259.5,471.5 304.5,475.8" fill="none" stroke="#2b2b2b" stroke-width="1.3" stroke-linejoin="round"/>
<rect x="122.6" y="335.9" width="3.8" height="3.8" fill="#2b2b2b"/>
<rect x="167.6" y="412.7" width="3.8" height="3.8" fill="#2b2b2b"/>
<rect x="212.6" y="456.4" width="3.8" height="3.8" fill="#2b2b2b"/>
<rect x="257.6" y="469.6" width="3.8" height="3.8" fill="#2b2b2b"/>
<rect x="302.6" y="473.9" width="3.8" height="3.8" fill="#2b2b2b"/>
</g>
<g>
<polyline points="124.5,394.2 169.5,451.3 214.5,468.6 259.5,477.0 304.5,480.1" fill="none" stroke="#f0262a" stroke-width="1.3" stroke-linejoin="round"/>
<circle cx="124.5" cy="394.2" r="2.1" fill="#f0262a"/>
<circle cx="169.5" cy="451.3" r="2.1" fill="#f0262a"/>
<circle cx="214.5" cy="468.6" r="2.1" fill="#f0262a"/>
<circle cx="259.5" cy="477.0" r="2.1" fill="#f0262a"/>
<circle cx="304.5" cy="480.1" r="2.1" fill="#f0262a"/>
</g>
<g>
<polyline points="124.5,418.2 169.5,462.1 214.5,475.3 259.5,483.0 304.5,484.9" fill="none" stroke="#1a5fe0" stroke-width="1.3" stroke-linejoin="round"/>
<path d="M124.5 415.7L126.8 419.9L122.2 419.9Z" fill="#1a5fe0"/>
<path d="M169.5 459.6L171.8 463.8L167.2 463.8Z" fill="#1a5fe0"/>
<path d="M214.5 472.8L216.8 477.0L212.2 477.0Z" fill="#1a5fe0"/>
<path d="M259.5 480.5L261.8 484.7L257.2 484.7Z" fill="#1a5fe0"/>
<path d="M304.5 482.4L306.8 486.6L302.2 486.6Z" fill="#1a5fe0"/>
</g>
<g>
<polyline points="124.5,434.3 169.5,467.4 214.5,487.8 259.5,492.6 304.5,485.9" fill="none" stroke="#22a557" stroke-width="1.3" stroke-linejoin="round"/>
<path d="M124.5 436.8L126.8 432.6L122.2 432.6Z" fill="#22a557"/>
<path d="M169.5 469.9L171.8 465.7L167.2 465.7Z" fill="#22a557"/>
<path d="M214.5 490.3L216.8 486.1L212.2 486.1Z" fill="#22a557"/>
<path d="M259.5 495.1L261.8 490.9L257.2 490.9Z" fill="#22a557"/>
<path d="M304.5 488.4L306.8 484.2L302.2 484.2Z" fill="#22a557"/>
</g>
<g>
<polyline points="124.5,442.9 169.5,478.2 214.5,486.6 259.5,486.6 304.5,480.1" fill="none" stroke="#a569e8" stroke-width="1.3" stroke-linejoin="round"/>
<path d="M124.5 440.2L126.6 442.9L124.5 445.6L122.4 442.9Z" fill="#a569e8"/>
<path d="M169.5 475.5L171.6 478.2L169.5 480.9L167.4 478.2Z" fill="#a569e8"/>
<path d="M214.5 483.9L216.6 486.6L214.5 489.3L212.4 486.6Z" fill="#a569e8"/>
<path d="M259.5 483.9L261.6 486.6L259.5 489.3L257.4 486.6Z" fill="#a569e8"/>
<path d="M304.5 477.4L306.6 480.1L304.5 482.8L302.4 480.1Z" fill="#a569e8"/>
</g>
<rect x="102.0" y="322.2" width="225.0" height="181.5" fill="none" stroke="#000" stroke-width="1.9"/>
<line x1="98.0" y1="362.8" x2="102.0" y2="362.8" stroke="#000" stroke-width="1.5"/>
<line x1="98.0" y1="403.1" x2="102.0" y2="403.1" stroke="#000" stroke-width="1.5"/>
<line x1="98.0" y1="443.4" x2="102.0" y2="443.4" stroke="#000" stroke-width="1.5"/>
<line x1="98.0" y1="483.7" x2="102.0" y2="483.7" stroke="#000" stroke-width="1.5"/>
<line x1="99.5" y1="342.6" x2="102.0" y2="342.6" stroke="#000" stroke-width="1.35"/>
<line x1="99.5" y1="382.9" x2="102.0" y2="382.9" stroke="#000" stroke-width="1.35"/>
<line x1="99.5" y1="423.2" x2="102.0" y2="423.2" stroke="#000" stroke-width="1.35"/>
<line x1="99.5" y1="463.5" x2="102.0" y2="463.5" stroke="#000" stroke-width="1.35"/>
<line x1="124.5" y1="503.7" x2="124.5" y2="507.7" stroke="#000" stroke-width="1.5"/>
<line x1="169.5" y1="503.7" x2="169.5" y2="507.7" stroke="#000" stroke-width="1.5"/>
<line x1="214.5" y1="503.7" x2="214.5" y2="507.7" stroke="#000" stroke-width="1.5"/>
<line x1="259.5" y1="503.7" x2="259.5" y2="507.7" stroke="#000" stroke-width="1.5"/>
<line x1="304.5" y1="503.7" x2="304.5" y2="507.7" stroke="#000" stroke-width="1.5"/>
<line x1="147.0" y1="503.7" x2="147.0" y2="506.2" stroke="#000" stroke-width="1.35"/>
<line x1="192.0" y1="503.7" x2="192.0" y2="506.2" stroke="#000" stroke-width="1.35"/>
<line x1="237.0" y1="503.7" x2="237.0" y2="506.2" stroke="#000" stroke-width="1.35"/>
<line x1="282.0" y1="503.7" x2="282.0" y2="506.2" stroke="#000" stroke-width="1.35"/>
<text x="95.5" y="329.5" font-size="20" text-anchor="end" fill="#111" textLength="41.2" lengthAdjust="spacingAndGlyphs">2500</text>
<text x="95.5" y="369.8" font-size="20" text-anchor="end" fill="#111" textLength="41.2" lengthAdjust="spacingAndGlyphs">2000</text>
<text x="95.5" y="410.1" font-size="20" text-anchor="end" fill="#111" textLength="41.2" lengthAdjust="spacingAndGlyphs">1500</text>
<text x="95.5" y="450.4" font-size="20" text-anchor="end" fill="#111" textLength="41.2" lengthAdjust="spacingAndGlyphs">1000</text>
<text x="95.5" y="490.7" font-size="20" text-anchor="end" fill="#111" textLength="30.9" lengthAdjust="spacingAndGlyphs">500</text>
<text x="124.5" y="529.0" font-size="20" text-anchor="middle" fill="#111" textLength="35.8" lengthAdjust="spacingAndGlyphs">0.07</text>
<text x="169.5" y="529.0" font-size="20" text-anchor="middle" fill="#111" textLength="25.5" lengthAdjust="spacingAndGlyphs">1.6</text>
<text x="214.5" y="529.0" font-size="20" text-anchor="middle" fill="#111" textLength="25.5" lengthAdjust="spacingAndGlyphs">3.2</text>
<text x="259.5" y="529.0" font-size="20" text-anchor="middle" fill="#111" textLength="25.5" lengthAdjust="spacingAndGlyphs">6.3</text>
<text x="304.5" y="529.0" font-size="20" text-anchor="middle" fill="#111" textLength="35.8" lengthAdjust="spacingAndGlyphs">12.3</text>
<text x="214.3" y="554.5" font-size="21.5" text-anchor="middle" fill="#111" textLength="170.0" lengthAdjust="spacingAndGlyphs">Roughness Ra (μm)</text>
<text x="46.5" y="413.4" font-size="20.5" text-anchor="middle" fill="#111" textLength="119.6" lengthAdjust="spacingAndGlyphs" transform="rotate(-90 46.5 413.4)">Friction (mN)</text>
<text x="280.0" y="341.9" font-size="21" text-anchor="start" fill="#111" textLength="42.7" lengthAdjust="spacingAndGlyphs">25°C</text>
<line x1="207.9" y1="357.7" x2="245.3" y2="357.7" stroke="#2b2b2b" stroke-width="1.5"/>
<rect x="225.3" y="356.4" width="2.6" height="2.6" fill="#2b2b2b"/>
<text x="250.6" y="363.1" font-size="16" text-anchor="start" fill="#111" textLength="52.3" lengthAdjust="spacingAndGlyphs">HTF-0s</text>
<line x1="207.9" y1="379.3" x2="245.3" y2="379.3" stroke="#f0262a" stroke-width="1.5"/>
<circle cx="226.6" cy="379.3" r="1.4" fill="#f0262a"/>
<text x="250.6" y="384.7" font-size="16" text-anchor="start" fill="#111" textLength="61.5" lengthAdjust="spacingAndGlyphs">HTF-60s</text>
<line x1="207.9" y1="399.5" x2="245.3" y2="399.5" stroke="#1a5fe0" stroke-width="1.5"/>
<path d="M226.6 397.8L228.2 400.7L225.0 400.7Z" fill="#1a5fe0"/>
<text x="250.6" y="404.9" font-size="16" text-anchor="start" fill="#111" textLength="61.5" lengthAdjust="spacingAndGlyphs">HTF-90s</text>
<line x1="207.9" y1="419.9" x2="245.3" y2="419.9" stroke="#22a557" stroke-width="1.5"/>
<path d="M226.6 421.6L228.2 418.7L225.0 418.7Z" fill="#22a557"/>
<text x="250.6" y="425.3" font-size="16" text-anchor="start" fill="#111" textLength="69.5" lengthAdjust="spacingAndGlyphs">HTF-120s</text>
<line x1="207.9" y1="441.0" x2="245.3" y2="441.0" stroke="#a569e8" stroke-width="1.5"/>
<path d="M226.6 439.2L228.0 441.0L226.6 442.8L225.2 441.0Z" fill="#a569e8"/>
<text x="250.6" y="446.4" font-size="16" text-anchor="start" fill="#111" textLength="69.5" lengthAdjust="spacingAndGlyphs">HTF-150s</text>
<text x="340.2" y="324.0" font-size="28" text-anchor="start" fill="#111">e</text>
<g>
<polyline points="456.4,340.2 501.7,419.9 546.9,458.5 592.1,470.5 637.4,474.6" fill="none" stroke="#2b2b2b" stroke-width="1.3" stroke-linejoin="round"/>
<rect x="454.5" y="338.3" width="3.8" height="3.8" fill="#2b2b2b"/>
<rect x="499.8" y="418.0" width="3.8" height="3.8" fill="#2b2b2b"/>
<rect x="545.0" y="456.6" width="3.8" height="3.8" fill="#2b2b2b"/>
<rect x="590.2" y="468.6" width="3.8" height="3.8" fill="#2b2b2b"/>
<rect x="635.5" y="472.7" width="3.8" height="3.8" fill="#2b2b2b"/>
</g>
<g>
<polyline points="456.4,371.9 501.7,449.4 546.9,463.8 592.1,473.4 637.4,475.3" fill="none" stroke="#f0262a" stroke-width="1.3" stroke-linejoin="round"/>
<circle cx="456.4" cy="371.9" r="2.1" fill="#f0262a"/>
<circle cx="501.7" cy="449.4" r="2.1" fill="#f0262a"/>
<circle cx="546.9" cy="463.8" r="2.1" fill="#f0262a"/>
<circle cx="592.1" cy="473.4" r="2.1" fill="#f0262a"/>
<circle cx="637.4" cy="475.3" r="2.1" fill="#f0262a"/>
</g>
<g>
<polyline points="456.4,396.6 501.7,449.4 546.9,466.2 592.1,483.7 637.4,481.3" fill="none" stroke="#1a5fe0" stroke-width="1.3" stroke-linejoin="round"/>
<path d="M456.4 394.1L458.7 398.3L454.1 398.3Z" fill="#1a5fe0"/>
<path d="M501.7 446.9L503.9 451.1L499.4 451.1Z" fill="#1a5fe0"/>
<path d="M546.9 463.7L549.2 467.9L544.6 467.9Z" fill="#1a5fe0"/>
<path d="M592.1 481.2L594.4 485.4L589.9 485.4Z" fill="#1a5fe0"/>
<path d="M637.4 478.8L639.7 483.0L635.1 483.0Z" fill="#1a5fe0"/>
</g>
<g>
<polyline points="456.4,417.7 501.7,472.7 546.9,475.8 592.1,480.6 637.4,470.5" fill="none" stroke="#22a557" stroke-width="1.3" stroke-linejoin="round"/>
<path d="M456.4 420.2L458.7 416.0L454.1 416.0Z" fill="#22a557"/>
<path d="M501.7 475.2L503.9 471.0L499.4 471.0Z" fill="#22a557"/>
<path d="M546.9 478.3L549.2 474.1L544.6 474.1Z" fill="#22a557"/>
<path d="M592.1 483.1L594.4 478.9L589.9 478.9Z" fill="#22a557"/>
<path d="M637.4 473.0L639.7 468.8L635.1 468.8Z" fill="#22a557"/>
</g>
<g>
<polyline points="456.4,426.6 501.7,462.6 546.9,487.3 592.1,492.1 637.4,485.4" fill="none" stroke="#a569e8" stroke-width="1.3" stroke-linejoin="round"/>
<path d="M456.4 423.9L458.5 426.6L456.4 429.3L454.3 426.6Z" fill="#a569e8"/>
<path d="M501.7 459.9L503.7 462.6L501.7 465.3L499.6 462.6Z" fill="#a569e8"/>
<path d="M546.9 484.6L549.0 487.3L546.9 490.0L544.8 487.3Z" fill="#a569e8"/>
<path d="M592.1 489.4L594.2 492.1L592.1 494.8L590.0 492.1Z" fill="#a569e8"/>
<path d="M637.4 482.7L639.5 485.4L637.4 488.1L635.3 485.4Z" fill="#a569e8"/>
</g>
<rect x="433.8" y="321.5" width="226.2" height="182.2" fill="none" stroke="#000" stroke-width="1.9"/>
<line x1="429.8" y1="361.7" x2="433.8" y2="361.7" stroke="#000" stroke-width="1.5"/>
<line x1="429.8" y1="402.1" x2="433.8" y2="402.1" stroke="#000" stroke-width="1.5"/>
<line x1="429.8" y1="442.5" x2="433.8" y2="442.5" stroke="#000" stroke-width="1.5"/>
<line x1="429.8" y1="482.9" x2="433.8" y2="482.9" stroke="#000" stroke-width="1.5"/>
<line x1="431.3" y1="341.5" x2="433.8" y2="341.5" stroke="#000" stroke-width="1.35"/>
<line x1="431.3" y1="381.9" x2="433.8" y2="381.9" stroke="#000" stroke-width="1.35"/>
<line x1="431.3" y1="422.3" x2="433.8" y2="422.3" stroke="#000" stroke-width="1.35"/>
<line x1="431.3" y1="462.7" x2="433.8" y2="462.7" stroke="#000" stroke-width="1.35"/>
<line x1="456.4" y1="503.7" x2="456.4" y2="507.7" stroke="#000" stroke-width="1.5"/>
<line x1="501.7" y1="503.7" x2="501.7" y2="507.7" stroke="#000" stroke-width="1.5"/>
<line x1="546.9" y1="503.7" x2="546.9" y2="507.7" stroke="#000" stroke-width="1.5"/>
<line x1="592.1" y1="503.7" x2="592.1" y2="507.7" stroke="#000" stroke-width="1.5"/>
<line x1="637.4" y1="503.7" x2="637.4" y2="507.7" stroke="#000" stroke-width="1.5"/>
<line x1="479.0" y1="503.7" x2="479.0" y2="506.2" stroke="#000" stroke-width="1.35"/>
<line x1="524.3" y1="503.7" x2="524.3" y2="506.2" stroke="#000" stroke-width="1.35"/>
<line x1="569.5" y1="503.7" x2="569.5" y2="506.2" stroke="#000" stroke-width="1.35"/>
<line x1="614.8" y1="503.7" x2="614.8" y2="506.2" stroke="#000" stroke-width="1.35"/>
<text x="427.3" y="328.3" font-size="20" text-anchor="end" fill="#111" textLength="41.2" lengthAdjust="spacingAndGlyphs">2000</text>
<text x="427.3" y="368.7" font-size="20" text-anchor="end" fill="#111" textLength="41.2" lengthAdjust="spacingAndGlyphs">1600</text>
<text x="427.3" y="409.1" font-size="20" text-anchor="end" fill="#111" textLength="41.2" lengthAdjust="spacingAndGlyphs">1200</text>
<text x="427.3" y="449.5" font-size="20" text-anchor="end" fill="#111" textLength="30.9" lengthAdjust="spacingAndGlyphs">800</text>
<text x="427.3" y="489.9" font-size="20" text-anchor="end" fill="#111" textLength="30.9" lengthAdjust="spacingAndGlyphs">400</text>
<text x="456.4" y="529.0" font-size="20" text-anchor="middle" fill="#111" textLength="35.8" lengthAdjust="spacingAndGlyphs">0.07</text>
<text x="501.7" y="529.0" font-size="20" text-anchor="middle" fill="#111" textLength="25.5" lengthAdjust="spacingAndGlyphs">1.6</text>
<text x="546.9" y="529.0" font-size="20" text-anchor="middle" fill="#111" textLength="25.5" lengthAdjust="spacingAndGlyphs">3.2</text>
<text x="592.1" y="529.0" font-size="20" text-anchor="middle" fill="#111" textLength="25.5" lengthAdjust="spacingAndGlyphs">6.3</text>
<text x="637.4" y="529.0" font-size="20" text-anchor="middle" fill="#111" textLength="35.8" lengthAdjust="spacingAndGlyphs">12.3</text>
<text x="546.9" y="555.3" font-size="21.5" text-anchor="middle" fill="#111" textLength="171.7" lengthAdjust="spacingAndGlyphs">Roughness Ra (μm)</text>
<text x="378.5" y="413.0" font-size="20.5" text-anchor="middle" fill="#111" textLength="119.5" lengthAdjust="spacingAndGlyphs" transform="rotate(-90 378.5 413.0)">Friction (mN)</text>
<text x="614.0" y="341.4" font-size="21" text-anchor="start" fill="#111" textLength="41.5" lengthAdjust="spacingAndGlyphs">50°C</text>
<line x1="540.8" y1="358.9" x2="579.7" y2="358.9" stroke="#2b2b2b" stroke-width="1.5"/>
<rect x="559.0" y="357.6" width="2.6" height="2.6" fill="#2b2b2b"/>
<text x="583.5" y="364.3" font-size="16" text-anchor="start" fill="#111" textLength="52.8" lengthAdjust="spacingAndGlyphs">HTF-0s</text>
<line x1="540.8" y1="379.8" x2="579.7" y2="379.8" stroke="#f0262a" stroke-width="1.5"/>
<circle cx="560.2" cy="379.8" r="1.4" fill="#f0262a"/>
<text x="583.5" y="385.2" font-size="16" text-anchor="start" fill="#111" textLength="61.5" lengthAdjust="spacingAndGlyphs">HTF-60s</text>
<line x1="540.8" y1="400.2" x2="579.7" y2="400.2" stroke="#1a5fe0" stroke-width="1.5"/>
<path d="M560.2 398.5L561.8 401.4L558.7 401.4Z" fill="#1a5fe0"/>
<text x="583.5" y="405.6" font-size="16" text-anchor="start" fill="#111" textLength="61.5" lengthAdjust="spacingAndGlyphs">HTF-90s</text>
<line x1="540.8" y1="421.1" x2="579.7" y2="421.1" stroke="#22a557" stroke-width="1.5"/>
<path d="M560.2 422.8L561.8 419.9L558.7 419.9Z" fill="#22a557"/>
<text x="583.5" y="426.5" font-size="16" text-anchor="start" fill="#111" textLength="69.5" lengthAdjust="spacingAndGlyphs">HTF-120s</text>
<line x1="540.8" y1="442.2" x2="579.7" y2="442.2" stroke="#a569e8" stroke-width="1.5"/>
<path d="M560.2 440.4L561.7 442.2L560.2 444.0L558.8 442.2Z" fill="#a569e8"/>
<text x="583.5" y="447.6" font-size="16" text-anchor="start" fill="#111" textLength="69.5" lengthAdjust="spacingAndGlyphs">HTF-150s</text>
<text x="673.6" y="324.0" font-size="28" text-anchor="start" fill="#111">f</text>
<g>
<polyline points="783.4,334.7 829.3,473.9 875.1,480.1 921.0,492.1 966.9,498.6" fill="none" stroke="#2b2b2b" stroke-width="1.3" stroke-linejoin="round"/>
<rect x="781.5" y="332.8" width="3.8" height="3.8" fill="#2b2b2b"/>
<rect x="827.4" y="472.0" width="3.8" height="3.8" fill="#2b2b2b"/>
<rect x="873.2" y="478.2" width="3.8" height="3.8" fill="#2b2b2b"/>
<rect x="919.1" y="490.2" width="3.8" height="3.8" fill="#2b2b2b"/>
<rect x="965.0" y="496.7" width="3.8" height="3.8" fill="#2b2b2b"/>
</g>
<g>
<polyline points="783.4,378.6 829.3,477.0 875.1,490.9 921.0,496.2 966.9,487.8" fill="none" stroke="#f0262a" stroke-width="1.3" stroke-linejoin="round"/>
<circle cx="783.4" cy="378.6" r="2.1" fill="#f0262a"/>
<circle cx="829.3" cy="477.0" r="2.1" fill="#f0262a"/>
<circle cx="875.1" cy="490.9" r="2.1" fill="#f0262a"/>
<circle cx="921.0" cy="496.2" r="2.1" fill="#f0262a"/>
<circle cx="966.9" cy="487.8" r="2.1" fill="#f0262a"/>
</g>
<g>
<polyline points="783.4,401.4 829.3,479.4 875.1,493.8 921.0,498.6 966.9,492.6" fill="none" stroke="#1a5fe0" stroke-width="1.3" stroke-linejoin="round"/>
<path d="M783.4 398.9L785.7 403.1L781.1 403.1Z" fill="#1a5fe0"/>
<path d="M829.3 476.9L831.6 481.1L827.0 481.1Z" fill="#1a5fe0"/>
<path d="M875.1 491.3L877.4 495.5L872.9 495.5Z" fill="#1a5fe0"/>
<path d="M921.0 496.1L923.3 500.3L918.7 500.3Z" fill="#1a5fe0"/>
<path d="M966.9 490.1L969.1 494.3L964.6 494.3Z" fill="#1a5fe0"/>
</g>
<g>
<polyline points="783.4,419.4 829.3,481.8 875.1,497.4 921.0,498.6 966.9,490.2" fill="none" stroke="#22a557" stroke-width="1.3" stroke-linejoin="round"/>
<path d="M783.4 421.9L785.7 417.7L781.1 417.7Z" fill="#22a557"/>
<path d="M829.3 484.3L831.6 480.1L827.0 480.1Z" fill="#22a557"/>
<path d="M875.1 499.9L877.4 495.7L872.9 495.7Z" fill="#22a557"/>
<path d="M921.0 501.1L923.3 496.9L918.7 496.9Z" fill="#22a557"/>
<path d="M966.9 492.7L969.1 488.5L964.6 488.5Z" fill="#22a557"/>
</g>
<g>
<polyline points="783.4,430.2 829.3,484.2 875.1,497.9 921.0,499.3 966.9,493.8" fill="none" stroke="#a569e8" stroke-width="1.3" stroke-linejoin="round"/>
<path d="M783.4 427.5L785.5 430.2L783.4 432.9L781.3 430.2Z" fill="#a569e8"/>
<path d="M829.3 481.5L831.4 484.2L829.3 486.9L827.2 484.2Z" fill="#a569e8"/>
<path d="M875.1 495.2L877.2 497.9L875.1 500.6L873.1 497.9Z" fill="#a569e8"/>
<path d="M921.0 496.6L923.1 499.3L921.0 502.0L918.9 499.3Z" fill="#a569e8"/>
<path d="M966.9 491.1L969.0 493.8L966.9 496.5L964.8 493.8Z" fill="#a569e8"/>
</g>
<rect x="866.6" y="477.5" width="106.8" height="23.5" fill="#b4b4b4" fill-opacity="0.5"/>
<line x1="866.6" y1="477.5" x2="973.4" y2="477.5" stroke="#f07070" stroke-width="1"/>
<rect x="877.5" y="347.3" width="84.1" height="76.7" fill="#fff"/>
<clipPath id="cl2"><rect x="878.0" y="347.8" width="83.1" height="75.7"/></clipPath>
<g clip-path="url(#cl2)">
<polyline points="877.5,398.9 882.8,402.6 918.2,402.6 953.7,395.1" fill="none" stroke="#a569e8" stroke-width="1.3"/>
<path d="M882.8 400.4L884.6 402.6L882.8 404.8L881.0 402.6Z" fill="#a569e8"/>
<path d="M918.2 400.4L920.0 402.6L918.2 404.8L916.4 402.6Z" fill="#a569e8"/>
<path d="M953.7 392.9L955.5 395.1L953.7 397.3L951.9 395.1Z" fill="#a569e8"/>
</g>
<g clip-path="url(#cl2)">
<polyline points="877.5,395.6 882.8,400.1 918.2,403.9 953.7,387.4" fill="none" stroke="#22a557" stroke-width="1.3"/>
<path d="M882.8 402.2L884.7 398.7L880.9 398.7Z" fill="#22a557"/>
<path d="M918.2 406.0L920.1 402.5L916.3 402.5Z" fill="#22a557"/>
<path d="M953.7 389.5L955.6 386.0L951.8 386.0Z" fill="#22a557"/>
</g>
<g clip-path="url(#cl2)">
<polyline points="877.5,390.7 882.8,395.1 918.2,405.5 953.7,392.7" fill="none" stroke="#1a5fe0" stroke-width="1.3"/>
<path d="M882.8 393.0L884.7 396.5L880.9 396.5Z" fill="#1a5fe0"/>
<path d="M918.2 403.4L920.1 406.9L916.3 406.9Z" fill="#1a5fe0"/>
<path d="M953.7 390.6L955.6 394.1L951.8 394.1Z" fill="#1a5fe0"/>
</g>
<g clip-path="url(#cl2)">
<polyline points="877.5,385.7 882.8,389.9 918.2,398.8 953.7,384.1" fill="none" stroke="#f0262a" stroke-width="1.3"/>
<circle cx="882.8" cy="389.9" r="1.8" fill="#f0262a"/>
<circle cx="918.2" cy="398.8" r="1.8" fill="#f0262a"/>
<circle cx="953.7" cy="384.1" r="1.8" fill="#f0262a"/>
<path d="M882.8 387.4V392.4M881.0 387.4H884.6M881.0 392.4H884.6" stroke="#f0262a" stroke-width="1.1" fill="none"/>
<path d="M953.7 381.6V386.6M951.9 381.6H955.5M951.9 386.6H955.5" stroke="#f0262a" stroke-width="1.1" fill="none"/>
</g>
<g clip-path="url(#cl2)">
<polyline points="877.5,368.2 882.8,369.6 918.2,392.3 953.7,403.9" fill="none" stroke="#2b2b2b" stroke-width="1.3"/>
<rect x="881.2" y="368.0" width="3.2" height="3.2" fill="#2b2b2b"/>
<rect x="916.6" y="390.7" width="3.2" height="3.2" fill="#2b2b2b"/>
<rect x="952.1" y="402.3" width="3.2" height="3.2" fill="#2b2b2b"/>
<path d="M882.8 368.1V371.1M881.0 368.1H884.6M881.0 371.1H884.6" stroke="#2b2b2b" stroke-width="1.1" fill="none"/>
</g>
<rect x="877.5" y="347.3" width="84.1" height="76.7" fill="none" stroke="#000" stroke-width="1.5"/>
<line x1="874.3" y1="363.5" x2="877.5" y2="363.5" stroke="#000" stroke-width="1.2"/>
<line x1="874.3" y1="385.0" x2="877.5" y2="385.0" stroke="#000" stroke-width="1.2"/>
<line x1="874.3" y1="406.5" x2="877.5" y2="406.5" stroke="#000" stroke-width="1.2"/>
<line x1="875.5" y1="352.7" x2="877.5" y2="352.7" stroke="#000" stroke-width="1.08"/>
<line x1="875.5" y1="374.2" x2="877.5" y2="374.2" stroke="#000" stroke-width="1.08"/>
<line x1="875.5" y1="395.7" x2="877.5" y2="395.7" stroke="#000" stroke-width="1.08"/>
<line x1="875.5" y1="417.2" x2="877.5" y2="417.2" stroke="#000" stroke-width="1.08"/>
<line x1="882.8" y1="424.0" x2="882.8" y2="427.2" stroke="#000" stroke-width="1.2"/>
<line x1="918.2" y1="424.0" x2="918.2" y2="427.2" stroke="#000" stroke-width="1.2"/>
<line x1="953.7" y1="424.0" x2="953.7" y2="427.2" stroke="#000" stroke-width="1.2"/>
<line x1="900.6" y1="424.0" x2="900.6" y2="426.0" stroke="#000" stroke-width="1.08"/>
<line x1="935.9" y1="424.0" x2="935.9" y2="426.0" stroke="#000" stroke-width="1.08"/>
<text x="872.2" y="368.9" font-size="16" text-anchor="end" fill="#111" textLength="23.5" lengthAdjust="spacingAndGlyphs">500</text>
<text x="872.2" y="390.4" font-size="16" text-anchor="end" fill="#111" textLength="23.5" lengthAdjust="spacingAndGlyphs">400</text>
<text x="872.2" y="411.9" font-size="16" text-anchor="end" fill="#111" textLength="23.5" lengthAdjust="spacingAndGlyphs">300</text>
<text x="882.8" y="442.5" font-size="15" text-anchor="middle" fill="#111" textLength="19.5" lengthAdjust="spacingAndGlyphs">3.2</text>
<text x="918.2" y="442.5" font-size="15" text-anchor="middle" fill="#111" textLength="19.5" lengthAdjust="spacingAndGlyphs">6.3</text>
<text x="953.7" y="442.5" font-size="15" text-anchor="middle" fill="#111" textLength="26.0" lengthAdjust="spacingAndGlyphs">12.3</text>
<text x="919.1" y="459.5" font-size="19" text-anchor="middle" fill="#111" textLength="125.4" lengthAdjust="spacingAndGlyphs">Roughness (μm)</text>
<text x="843.3" y="385.2" font-size="18.5" text-anchor="middle" fill="#111" textLength="106.8" lengthAdjust="spacingAndGlyphs" transform="rotate(-90 843.3 385.2)">Friction (mN)</text>
<rect x="760.5" y="321.2" width="229.3" height="185.3" fill="none" stroke="#000" stroke-width="1.9"/>
<line x1="756.5" y1="326.8" x2="760.5" y2="326.8" stroke="#000" stroke-width="1.5"/>
<line x1="756.5" y1="368.5" x2="760.5" y2="368.5" stroke="#000" stroke-width="1.5"/>
<line x1="756.5" y1="410.2" x2="760.5" y2="410.2" stroke="#000" stroke-width="1.5"/>
<line x1="756.5" y1="451.9" x2="760.5" y2="451.9" stroke="#000" stroke-width="1.5"/>
<line x1="756.5" y1="493.6" x2="760.5" y2="493.6" stroke="#000" stroke-width="1.5"/>
<line x1="758.0" y1="347.6" x2="760.5" y2="347.6" stroke="#000" stroke-width="1.35"/>
<line x1="758.0" y1="389.3" x2="760.5" y2="389.3" stroke="#000" stroke-width="1.35"/>
<line x1="758.0" y1="431.0" x2="760.5" y2="431.0" stroke="#000" stroke-width="1.35"/>
<line x1="758.0" y1="472.7" x2="760.5" y2="472.7" stroke="#000" stroke-width="1.35"/>
<line x1="783.4" y1="506.5" x2="783.4" y2="510.5" stroke="#000" stroke-width="1.5"/>
<line x1="829.3" y1="506.5" x2="829.3" y2="510.5" stroke="#000" stroke-width="1.5"/>
<line x1="875.1" y1="506.5" x2="875.1" y2="510.5" stroke="#000" stroke-width="1.5"/>
<line x1="921.0" y1="506.5" x2="921.0" y2="510.5" stroke="#000" stroke-width="1.5"/>
<line x1="966.9" y1="506.5" x2="966.9" y2="510.5" stroke="#000" stroke-width="1.5"/>
<line x1="806.4" y1="506.5" x2="806.4" y2="509.0" stroke="#000" stroke-width="1.35"/>
<line x1="852.2" y1="506.5" x2="852.2" y2="509.0" stroke="#000" stroke-width="1.35"/>
<line x1="898.1" y1="506.5" x2="898.1" y2="509.0" stroke="#000" stroke-width="1.35"/>
<line x1="943.9" y1="506.5" x2="943.9" y2="509.0" stroke="#000" stroke-width="1.35"/>
<text x="754.0" y="333.8" font-size="20" text-anchor="end" fill="#111" textLength="41.2" lengthAdjust="spacingAndGlyphs">1750</text>
<text x="754.0" y="375.5" font-size="20" text-anchor="end" fill="#111" textLength="41.2" lengthAdjust="spacingAndGlyphs">1400</text>
<text x="754.0" y="417.2" font-size="20" text-anchor="end" fill="#111" textLength="41.2" lengthAdjust="spacingAndGlyphs">1050</text>
<text x="754.0" y="458.9" font-size="20" text-anchor="end" fill="#111" textLength="30.9" lengthAdjust="spacingAndGlyphs">700</text>
<text x="754.0" y="500.6" font-size="20" text-anchor="end" fill="#111" textLength="30.9" lengthAdjust="spacingAndGlyphs">350</text>
<text x="783.4" y="532.5" font-size="20" text-anchor="middle" fill="#111" textLength="35.8" lengthAdjust="spacingAndGlyphs">0.07</text>
<text x="829.3" y="532.5" font-size="20" text-anchor="middle" fill="#111" textLength="25.5" lengthAdjust="spacingAndGlyphs">1.6</text>
<text x="875.1" y="532.5" font-size="20" text-anchor="middle" fill="#111" textLength="25.5" lengthAdjust="spacingAndGlyphs">3.2</text>
<text x="921.0" y="532.5" font-size="20" text-anchor="middle" fill="#111" textLength="25.5" lengthAdjust="spacingAndGlyphs">6.3</text>
<text x="966.9" y="532.5" font-size="20" text-anchor="middle" fill="#111" textLength="35.8" lengthAdjust="spacingAndGlyphs">12.3</text>
<text x="874.3" y="558.7" font-size="21.5" text-anchor="middle" fill="#111" textLength="160.0" lengthAdjust="spacingAndGlyphs">Roughness Ra (μm)</text>
<text x="708.5" y="413.0" font-size="20.5" text-anchor="middle" fill="#111" textLength="119.5" lengthAdjust="spacingAndGlyphs" transform="rotate(-90 708.5 413.0)">Friction (mN)</text>
<text x="932.6" y="341.4" font-size="21" text-anchor="start" fill="#111" textLength="49.2" lengthAdjust="spacingAndGlyphs">100°C</text>
<text x="15.5" y="591.6" font-size="28" text-anchor="start" fill="#111">g</text>
<g>
<polyline points="118.0,619.5 164.4,755.1 210.8,768.1 257.2,772.4 303.6,778.4" fill="none" stroke="#2b2b2b" stroke-width="1.3" stroke-linejoin="round"/>
<rect x="116.1" y="617.6" width="3.8" height="3.8" fill="#2b2b2b"/>
<rect x="162.5" y="753.2" width="3.8" height="3.8" fill="#2b2b2b"/>
<rect x="208.9" y="766.2" width="3.8" height="3.8" fill="#2b2b2b"/>
<rect x="255.3" y="770.5" width="3.8" height="3.8" fill="#2b2b2b"/>
<rect x="301.7" y="776.5" width="3.8" height="3.8" fill="#2b2b2b"/>
</g>
<g>
<polyline points="118.0,662.0 164.4,755.6 210.8,770.0 257.2,771.2 303.6,764.7" fill="none" stroke="#f0262a" stroke-width="1.3" stroke-linejoin="round"/>
<circle cx="118.0" cy="662.0" r="2.1" fill="#f0262a"/>
<circle cx="164.4" cy="755.6" r="2.1" fill="#f0262a"/>
<circle cx="210.8" cy="770.0" r="2.1" fill="#f0262a"/>
<circle cx="257.2" cy="771.2" r="2.1" fill="#f0262a"/>
<circle cx="303.6" cy="764.7" r="2.1" fill="#f0262a"/>
</g>
<g>
<polyline points="118.0,688.4 164.4,758.0 210.8,771.9 257.2,772.4 303.6,766.4" fill="none" stroke="#1a5fe0" stroke-width="1.3" stroke-linejoin="round"/>
<path d="M118.0 685.9L120.3 690.1L115.7 690.1Z" fill="#1a5fe0"/>
<path d="M164.4 755.5L166.7 759.7L162.1 759.7Z" fill="#1a5fe0"/>
<path d="M210.8 769.4L213.1 773.6L208.5 773.6Z" fill="#1a5fe0"/>
<path d="M257.2 769.9L259.5 774.1L254.9 774.1Z" fill="#1a5fe0"/>
<path d="M303.6 763.9L305.9 768.1L301.3 768.1Z" fill="#1a5fe0"/>
</g>
<g>
<polyline points="118.0,702.3 164.4,760.9 210.8,772.9 257.2,772.9 303.6,767.6" fill="none" stroke="#22a557" stroke-width="1.3" stroke-linejoin="round"/>
<path d="M118.0 704.8L120.3 700.6L115.7 700.6Z" fill="#22a557"/>
<path d="M164.4 763.4L166.7 759.2L162.1 759.2Z" fill="#22a557"/>
<path d="M210.8 775.4L213.1 771.2L208.5 771.2Z" fill="#22a557"/>
<path d="M257.2 775.4L259.5 771.2L254.9 771.2Z" fill="#22a557"/>
<path d="M303.6 770.1L305.9 765.9L301.3 765.9Z" fill="#22a557"/>
</g>
<g>
<polyline points="118.0,711.9 164.4,761.6 210.8,774.8 257.2,773.6 303.6,767.6" fill="none" stroke="#a569e8" stroke-width="1.3" stroke-linejoin="round"/>
<path d="M118.0 709.2L120.1 711.9L118.0 714.6L115.9 711.9Z" fill="#a569e8"/>
<path d="M164.4 758.9L166.5 761.6L164.4 764.3L162.3 761.6Z" fill="#a569e8"/>
<path d="M210.8 772.1L212.9 774.8L210.8 777.5L208.7 774.8Z" fill="#a569e8"/>
<path d="M257.2 770.9L259.3 773.6L257.2 776.3L255.1 773.6Z" fill="#a569e8"/>
<path d="M303.6 764.9L305.7 767.6L303.6 770.3L301.5 767.6Z" fill="#a569e8"/>
</g>
<rect x="156" y="756.1" width="153.6" height="24.7" fill="#b4b4b4" fill-opacity="0.5"/>
<rect x="210.3" y="625.6" width="86.3" height="77.5" fill="#fff"/>
<clipPath id="cl3"><rect x="210.8" y="626.1" width="85.3" height="76.5"/></clipPath>
<g clip-path="url(#cl3)">
<polyline points="211.0,620.0 215.3,652.0 241.2,685.8 267.3,684.2 292.8,668.5" fill="none" stroke="#a569e8" stroke-width="1.3"/>
<path d="M215.3 649.8L217.1 652.0L215.3 654.2L213.5 652.0Z" fill="#a569e8"/>
<path d="M241.2 683.6L243.0 685.8L241.2 688.0L239.4 685.8Z" fill="#a569e8"/>
<path d="M267.3 682.0L269.1 684.2L267.3 686.4L265.5 684.2Z" fill="#a569e8"/>
<path d="M292.8 666.3L294.6 668.5L292.8 670.7L291.0 668.5Z" fill="#a569e8"/>
</g>
<g clip-path="url(#cl3)">
<polyline points="211.0,620.0 215.3,648.7 241.2,682.0 267.3,682.5 292.8,666.8" fill="none" stroke="#22a557" stroke-width="1.3"/>
<path d="M215.3 650.8L217.2 647.3L213.4 647.3Z" fill="#22a557"/>
<path d="M241.2 684.1L243.1 680.6L239.3 680.6Z" fill="#22a557"/>
<path d="M267.3 684.6L269.2 681.1L265.4 681.1Z" fill="#22a557"/>
<path d="M292.8 668.9L294.7 665.4L290.9 665.4Z" fill="#22a557"/>
</g>
<g clip-path="url(#cl3)">
<polyline points="211.0,620.0 215.3,642.1 241.2,680.0 267.3,679.5 292.8,663.5" fill="none" stroke="#1a5fe0" stroke-width="1.3"/>
<path d="M215.3 640.0L217.2 643.5L213.4 643.5Z" fill="#1a5fe0"/>
<path d="M241.2 677.9L243.1 681.4L239.3 681.4Z" fill="#1a5fe0"/>
<path d="M267.3 677.4L269.2 680.9L265.4 680.9Z" fill="#1a5fe0"/>
<path d="M292.8 661.4L294.7 664.9L290.9 664.9Z" fill="#1a5fe0"/>
</g>
<g clip-path="url(#cl3)">
<polyline points="210.5,620.0 215.3,634.7 241.2,672.6 267.3,676.7 292.8,661.9" fill="none" stroke="#f0262a" stroke-width="1.3"/>
<circle cx="215.3" cy="634.7" r="1.8" fill="#f0262a"/>
<circle cx="241.2" cy="672.6" r="1.8" fill="#f0262a"/>
<circle cx="267.3" cy="676.7" r="1.8" fill="#f0262a"/>
<circle cx="292.8" cy="661.9" r="1.8" fill="#f0262a"/>
<path d="M292.8 657.9V665.9M291.0 657.9H294.6M291.0 665.9H294.6" stroke="#f0262a" stroke-width="1.1" fill="none"/>
<path d="M267.3 674.7V678.7M265.5 674.7H269.1M265.5 678.7H269.1" stroke="#f0262a" stroke-width="1.1" fill="none"/>
</g>
<g clip-path="url(#cl3)">
<polyline points="208.0,620.0 215.3,633.8 241.2,668.5 267.3,679.2 292.8,697.4" fill="none" stroke="#2b2b2b" stroke-width="1.3"/>
<rect x="213.7" y="632.2" width="3.2" height="3.2" fill="#2b2b2b"/>
<rect x="239.6" y="666.9" width="3.2" height="3.2" fill="#2b2b2b"/>
<rect x="265.7" y="677.6" width="3.2" height="3.2" fill="#2b2b2b"/>
<rect x="291.2" y="695.8" width="3.2" height="3.2" fill="#2b2b2b"/>
<path d="M241.2 664.5V672.5M239.4 664.5H243.0M239.4 672.5H243.0" stroke="#2b2b2b" stroke-width="1.1" fill="none"/>
<path d="M292.8 694.9V699.9M291.0 694.9H294.6M291.0 699.9H294.6" stroke="#2b2b2b" stroke-width="1.1" fill="none"/>
</g>
<rect x="210.3" y="625.6" width="86.3" height="77.5" fill="none" stroke="#000" stroke-width="1.5"/>
<line x1="207.1" y1="636.0" x2="210.3" y2="636.0" stroke="#000" stroke-width="1.2"/>
<line x1="207.1" y1="665.7" x2="210.3" y2="665.7" stroke="#000" stroke-width="1.2"/>
<line x1="207.1" y1="695.4" x2="210.3" y2="695.4" stroke="#000" stroke-width="1.2"/>
<line x1="208.3" y1="650.8" x2="210.3" y2="650.8" stroke="#000" stroke-width="1.08"/>
<line x1="208.3" y1="680.5" x2="210.3" y2="680.5" stroke="#000" stroke-width="1.08"/>
<line x1="215.3" y1="703.1" x2="215.3" y2="706.3" stroke="#000" stroke-width="1.2"/>
<line x1="241.2" y1="703.1" x2="241.2" y2="706.3" stroke="#000" stroke-width="1.2"/>
<line x1="267.3" y1="703.1" x2="267.3" y2="706.3" stroke="#000" stroke-width="1.2"/>
<line x1="292.8" y1="703.1" x2="292.8" y2="706.3" stroke="#000" stroke-width="1.2"/>
<line x1="228.2" y1="703.1" x2="228.2" y2="705.1" stroke="#000" stroke-width="1.08"/>
<line x1="254.2" y1="703.1" x2="254.2" y2="705.1" stroke="#000" stroke-width="1.08"/>
<line x1="280.1" y1="703.1" x2="280.1" y2="705.1" stroke="#000" stroke-width="1.08"/>
<text x="205.0" y="641.4" font-size="16" text-anchor="end" fill="#111" textLength="23.5" lengthAdjust="spacingAndGlyphs">450</text>
<text x="205.0" y="671.1" font-size="16" text-anchor="end" fill="#111" textLength="23.5" lengthAdjust="spacingAndGlyphs">360</text>
<text x="205.0" y="700.8" font-size="16" text-anchor="end" fill="#111" textLength="23.5" lengthAdjust="spacingAndGlyphs">270</text>
<text x="215.3" y="722.9" font-size="15" text-anchor="middle" fill="#111" textLength="19.5" lengthAdjust="spacingAndGlyphs">1.6</text>
<text x="241.2" y="722.9" font-size="15" text-anchor="middle" fill="#111" textLength="19.5" lengthAdjust="spacingAndGlyphs">3.2</text>
<text x="267.3" y="722.9" font-size="15" text-anchor="middle" fill="#111" textLength="19.5" lengthAdjust="spacingAndGlyphs">6.3</text>
<text x="292.8" y="722.9" font-size="15" text-anchor="middle" fill="#111" textLength="26.0" lengthAdjust="spacingAndGlyphs">12.3</text>
<text x="253.7" y="738.6" font-size="19" text-anchor="middle" fill="#111" textLength="124.6" lengthAdjust="spacingAndGlyphs">Roughness (μm)</text>
<text x="179.3" y="663.7" font-size="18.5" text-anchor="middle" fill="#111" textLength="104.0" lengthAdjust="spacingAndGlyphs" transform="rotate(-90 179.3 663.7)">Friction (mN)</text>
<rect x="94.8" y="596.2" width="232.0" height="187.3" fill="none" stroke="#000" stroke-width="1.9"/>
<line x1="90.8" y1="602.3" x2="94.8" y2="602.3" stroke="#000" stroke-width="1.5"/>
<line x1="90.8" y1="643.7" x2="94.8" y2="643.7" stroke="#000" stroke-width="1.5"/>
<line x1="90.8" y1="685.1" x2="94.8" y2="685.1" stroke="#000" stroke-width="1.5"/>
<line x1="90.8" y1="726.5" x2="94.8" y2="726.5" stroke="#000" stroke-width="1.5"/>
<line x1="90.8" y1="767.9" x2="94.8" y2="767.9" stroke="#000" stroke-width="1.5"/>
<line x1="92.3" y1="623.0" x2="94.8" y2="623.0" stroke="#000" stroke-width="1.35"/>
<line x1="92.3" y1="664.4" x2="94.8" y2="664.4" stroke="#000" stroke-width="1.35"/>
<line x1="92.3" y1="705.8" x2="94.8" y2="705.8" stroke="#000" stroke-width="1.35"/>
<line x1="92.3" y1="747.2" x2="94.8" y2="747.2" stroke="#000" stroke-width="1.35"/>
<line x1="118.0" y1="783.5" x2="118.0" y2="787.5" stroke="#000" stroke-width="1.5"/>
<line x1="164.4" y1="783.5" x2="164.4" y2="787.5" stroke="#000" stroke-width="1.5"/>
<line x1="210.8" y1="783.5" x2="210.8" y2="787.5" stroke="#000" stroke-width="1.5"/>
<line x1="257.2" y1="783.5" x2="257.2" y2="787.5" stroke="#000" stroke-width="1.5"/>
<line x1="303.6" y1="783.5" x2="303.6" y2="787.5" stroke="#000" stroke-width="1.5"/>
<line x1="141.2" y1="783.5" x2="141.2" y2="786.0" stroke="#000" stroke-width="1.35"/>
<line x1="187.6" y1="783.5" x2="187.6" y2="786.0" stroke="#000" stroke-width="1.35"/>
<line x1="234.0" y1="783.5" x2="234.0" y2="786.0" stroke="#000" stroke-width="1.35"/>
<line x1="280.4" y1="783.5" x2="280.4" y2="786.0" stroke="#000" stroke-width="1.35"/>
<text x="88.3" y="609.3" font-size="20" text-anchor="end" fill="#111" textLength="41.2" lengthAdjust="spacingAndGlyphs">1750</text>
<text x="88.3" y="650.7" font-size="20" text-anchor="end" fill="#111" textLength="41.2" lengthAdjust="spacingAndGlyphs">1400</text>
<text x="88.3" y="692.1" font-size="20" text-anchor="end" fill="#111" textLength="41.2" lengthAdjust="spacingAndGlyphs">1050</text>
<text x="88.3" y="733.5" font-size="20" text-anchor="end" fill="#111" textLength="30.9" lengthAdjust="spacingAndGlyphs">700</text>
<text x="88.3" y="774.9" font-size="20" text-anchor="end" fill="#111" textLength="30.9" lengthAdjust="spacingAndGlyphs">350</text>
<text x="118.0" y="808.0" font-size="20" text-anchor="middle" fill="#111" textLength="35.8" lengthAdjust="spacingAndGlyphs">0.07</text>
<text x="164.4" y="808.0" font-size="20" text-anchor="middle" fill="#111" textLength="25.5" lengthAdjust="spacingAndGlyphs">1.6</text>
<text x="210.8" y="808.0" font-size="20" text-anchor="middle" fill="#111" textLength="25.5" lengthAdjust="spacingAndGlyphs">3.2</text>
<text x="257.2" y="808.0" font-size="20" text-anchor="middle" fill="#111" textLength="25.5" lengthAdjust="spacingAndGlyphs">6.3</text>
<text x="303.6" y="808.0" font-size="20" text-anchor="middle" fill="#111" textLength="35.8" lengthAdjust="spacingAndGlyphs">12.3</text>
<text x="211.7" y="833.6" font-size="21.5" text-anchor="middle" fill="#111" textLength="161.5" lengthAdjust="spacingAndGlyphs">Roughness Ra (μm)</text>
<text x="43.4" y="689.0" font-size="20.5" text-anchor="middle" fill="#111" textLength="116.5" lengthAdjust="spacingAndGlyphs" transform="rotate(-90 43.4 689.0)">Friction (mN)</text>
<text x="270.3" y="614.5" font-size="21" text-anchor="start" fill="#111" textLength="48.9" lengthAdjust="spacingAndGlyphs">150°C</text>
<text x="342.0" y="592.0" font-size="28" text-anchor="start" fill="#111">h</text>
<g>
<polyline points="455.7,622.4 501.0,755.1 546.4,765.7 591.8,768.1 637.1,772.4" fill="none" stroke="#2b2b2b" stroke-width="1.3" stroke-linejoin="round"/>
<rect x="453.8" y="620.5" width="3.8" height="3.8" fill="#2b2b2b"/>
<rect x="499.1" y="753.2" width="3.8" height="3.8" fill="#2b2b2b"/>
<rect x="544.5" y="763.8" width="3.8" height="3.8" fill="#2b2b2b"/>
<rect x="589.9" y="766.2" width="3.8" height="3.8" fill="#2b2b2b"/>
<rect x="635.2" y="770.5" width="3.8" height="3.8" fill="#2b2b2b"/>
</g>
<g>
<polyline points="455.7,651.2 501.0,755.6 546.4,767.1 591.8,766.4 637.1,762.3" fill="none" stroke="#f0262a" stroke-width="1.3" stroke-linejoin="round"/>
<circle cx="455.7" cy="651.2" r="2.1" fill="#f0262a"/>
<circle cx="501.0" cy="755.6" r="2.1" fill="#f0262a"/>
<circle cx="546.4" cy="767.1" r="2.1" fill="#f0262a"/>
<circle cx="591.8" cy="766.4" r="2.1" fill="#f0262a"/>
<circle cx="637.1" cy="762.3" r="2.1" fill="#f0262a"/>
</g>
<g>
<polyline points="455.7,681.2 501.0,756.8 546.4,768.1 591.8,765.7 637.1,761.1" fill="none" stroke="#1a5fe0" stroke-width="1.3" stroke-linejoin="round"/>
<path d="M455.7 678.7L458.0 682.9L453.4 682.9Z" fill="#1a5fe0"/>
<path d="M501.0 754.3L503.3 758.5L498.8 758.5Z" fill="#1a5fe0"/>
<path d="M546.4 765.6L548.7 769.8L544.1 769.8Z" fill="#1a5fe0"/>
<path d="M591.8 763.2L594.0 767.4L589.5 767.4Z" fill="#1a5fe0"/>
<path d="M637.1 758.6L639.4 762.8L634.8 762.8Z" fill="#1a5fe0"/>
</g>
<g>
<polyline points="455.7,694.4 501.0,758.0 546.4,768.8 591.8,768.8 637.1,762.8" fill="none" stroke="#22a557" stroke-width="1.3" stroke-linejoin="round"/>
<path d="M455.7 696.9L458.0 692.7L453.4 692.7Z" fill="#22a557"/>
<path d="M501.0 760.5L503.3 756.3L498.8 756.3Z" fill="#22a557"/>
<path d="M546.4 771.3L548.7 767.1L544.1 767.1Z" fill="#22a557"/>
<path d="M591.8 771.3L594.0 767.1L589.5 767.1Z" fill="#22a557"/>
<path d="M637.1 765.3L639.4 761.1L634.8 761.1Z" fill="#22a557"/>
</g>
<g>
<polyline points="455.7,701.6 501.0,759.9 546.4,770.5 591.8,770.0 637.1,763.3" fill="none" stroke="#a569e8" stroke-width="1.3" stroke-linejoin="round"/>
<path d="M455.7 698.9L457.8 701.6L455.7 704.3L453.6 701.6Z" fill="#a569e8"/>
<path d="M501.0 757.2L503.1 759.9L501.0 762.6L498.9 759.9Z" fill="#a569e8"/>
<path d="M546.4 767.8L548.5 770.5L546.4 773.2L544.3 770.5Z" fill="#a569e8"/>
<path d="M591.8 767.3L593.9 770.0L591.8 772.7L589.7 770.0Z" fill="#a569e8"/>
<path d="M637.1 760.6L639.2 763.3L637.1 766.0L635.0 763.3Z" fill="#a569e8"/>
</g>
<rect x="494" y="755.1" width="153.6" height="20.9" fill="#b4b4b4" fill-opacity="0.5"/>
<line x1="494" y1="755.1" x2="647.6" y2="755.1" stroke="#f07070" stroke-width="1"/>
<line x1="647.6" y1="755.1" x2="647.6" y2="776" stroke="#f07070" stroke-width="1"/>
<rect x="546.2" y="628.4" width="82.1" height="75.9" fill="#fff"/>
<clipPath id="cl4"><rect x="546.7" y="628.9" width="81.1" height="74.9"/></clipPath>
<g clip-path="url(#cl4)">
<polyline points="547.0,628.0 549.5,647.0 575.4,685.0 599.8,685.0 624.5,662.7" fill="none" stroke="#a569e8" stroke-width="1.3"/>
<path d="M549.5 644.8L551.3 647.0L549.5 649.2L547.7 647.0Z" fill="#a569e8"/>
<path d="M575.4 682.8L577.2 685.0L575.4 687.2L573.6 685.0Z" fill="#a569e8"/>
<path d="M599.8 682.8L601.6 685.0L599.8 687.2L598.0 685.0Z" fill="#a569e8"/>
<path d="M624.5 660.5L626.3 662.7L624.5 664.9L622.7 662.7Z" fill="#a569e8"/>
<path d="M575.4 682.5V687.5M573.6 682.5H577.2M573.6 687.5H577.2" stroke="#a569e8" stroke-width="1.1" fill="none"/>
</g>
<g clip-path="url(#cl4)">
<polyline points="547.0,628.0 549.5,642.9 575.4,677.2 599.8,680.0 624.5,660.2" fill="none" stroke="#22a557" stroke-width="1.3"/>
<path d="M549.5 645.0L551.4 641.5L547.6 641.5Z" fill="#22a557"/>
<path d="M575.4 679.3L577.3 675.8L573.5 675.8Z" fill="#22a557"/>
<path d="M599.8 682.1L601.7 678.6L597.9 678.6Z" fill="#22a557"/>
<path d="M624.5 662.3L626.4 658.8L622.6 658.8Z" fill="#22a557"/>
<path d="M599.8 677.0V683.0M598.0 677.0H601.6M598.0 683.0H601.6" stroke="#22a557" stroke-width="1.1" fill="none"/>
</g>
<g clip-path="url(#cl4)">
<polyline points="547.0,625.0 549.5,638.0 575.4,675.1 599.8,670.1 624.5,656.1" fill="none" stroke="#1a5fe0" stroke-width="1.3"/>
<path d="M549.5 635.9L551.4 639.4L547.6 639.4Z" fill="#1a5fe0"/>
<path d="M575.4 673.0L577.3 676.5L573.5 676.5Z" fill="#1a5fe0"/>
<path d="M599.8 668.0L601.7 671.5L597.9 671.5Z" fill="#1a5fe0"/>
<path d="M624.5 654.0L626.4 657.5L622.6 657.5Z" fill="#1a5fe0"/>
</g>
<g clip-path="url(#cl4)">
<polyline points="547.0,628.0 549.5,638.8 575.4,670.6 599.8,667.3 624.5,654.5" fill="none" stroke="#f0262a" stroke-width="1.3"/>
<circle cx="549.5" cy="638.8" r="1.8" fill="#f0262a"/>
<circle cx="575.4" cy="670.6" r="1.8" fill="#f0262a"/>
<circle cx="599.8" cy="667.3" r="1.8" fill="#f0262a"/>
<circle cx="624.5" cy="654.5" r="1.8" fill="#f0262a"/>
<path d="M624.5 651.5V657.5M622.7 651.5H626.3M622.7 657.5H626.3" stroke="#f0262a" stroke-width="1.1" fill="none"/>
<path d="M599.8 664.3V670.3M598.0 664.3H601.6M598.0 670.3H601.6" stroke="#f0262a" stroke-width="1.1" fill="none"/>
</g>
<g clip-path="url(#cl4)">
<polyline points="547.0,628.0 549.5,635.5 575.4,666.3 599.8,678.9 624.5,691.6" fill="none" stroke="#2b2b2b" stroke-width="1.3"/>
<rect x="547.9" y="633.9" width="3.2" height="3.2" fill="#2b2b2b"/>
<rect x="573.8" y="664.7" width="3.2" height="3.2" fill="#2b2b2b"/>
<rect x="598.2" y="677.3" width="3.2" height="3.2" fill="#2b2b2b"/>
<rect x="622.9" y="690.0" width="3.2" height="3.2" fill="#2b2b2b"/>
<path d="M575.4 663.3V669.3M573.6 663.3H577.2M573.6 669.3H577.2" stroke="#2b2b2b" stroke-width="1.1" fill="none"/>
<path d="M624.5 688.6V694.6M622.7 688.6H626.3M622.7 694.6H626.3" stroke="#2b2b2b" stroke-width="1.1" fill="none"/>
</g>
<rect x="546.2" y="628.4" width="82.1" height="75.9" fill="none" stroke="#000" stroke-width="1.5"/>
<line x1="543.0" y1="646.5" x2="546.2" y2="646.5" stroke="#000" stroke-width="1.2"/>
<line x1="543.0" y1="673.1" x2="546.2" y2="673.1" stroke="#000" stroke-width="1.2"/>
<line x1="543.0" y1="699.8" x2="546.2" y2="699.8" stroke="#000" stroke-width="1.2"/>
<line x1="544.2" y1="633.0" x2="546.2" y2="633.0" stroke="#000" stroke-width="1.08"/>
<line x1="544.2" y1="659.7" x2="546.2" y2="659.7" stroke="#000" stroke-width="1.08"/>
<line x1="544.2" y1="686.5" x2="546.2" y2="686.5" stroke="#000" stroke-width="1.08"/>
<line x1="549.5" y1="704.3" x2="549.5" y2="707.5" stroke="#000" stroke-width="1.2"/>
<line x1="575.4" y1="704.3" x2="575.4" y2="707.5" stroke="#000" stroke-width="1.2"/>
<line x1="599.8" y1="704.3" x2="599.8" y2="707.5" stroke="#000" stroke-width="1.2"/>
<line x1="624.5" y1="704.3" x2="624.5" y2="707.5" stroke="#000" stroke-width="1.2"/>
<line x1="562.4" y1="704.3" x2="562.4" y2="706.3" stroke="#000" stroke-width="1.08"/>
<line x1="587.6" y1="704.3" x2="587.6" y2="706.3" stroke="#000" stroke-width="1.08"/>
<line x1="612.1" y1="704.3" x2="612.1" y2="706.3" stroke="#000" stroke-width="1.08"/>
<text x="540.9" y="651.9" font-size="16" text-anchor="end" fill="#111" textLength="23.5" lengthAdjust="spacingAndGlyphs">360</text>
<text x="540.9" y="678.5" font-size="16" text-anchor="end" fill="#111" textLength="23.5" lengthAdjust="spacingAndGlyphs">300</text>
<text x="540.9" y="705.2" font-size="16" text-anchor="end" fill="#111" textLength="23.5" lengthAdjust="spacingAndGlyphs">240</text>
<text x="549.5" y="721.3" font-size="15" text-anchor="middle" fill="#111" textLength="19.5" lengthAdjust="spacingAndGlyphs">1.6</text>
<text x="575.4" y="721.3" font-size="15" text-anchor="middle" fill="#111" textLength="19.5" lengthAdjust="spacingAndGlyphs">3.2</text>
<text x="599.8" y="721.3" font-size="15" text-anchor="middle" fill="#111" textLength="19.5" lengthAdjust="spacingAndGlyphs">6.3</text>
<text x="624.5" y="721.3" font-size="15" text-anchor="middle" fill="#111" textLength="26.0" lengthAdjust="spacingAndGlyphs">12.3</text>
<text x="587.8" y="736.1" font-size="19" text-anchor="middle" fill="#111" textLength="118.0" lengthAdjust="spacingAndGlyphs">Roughness (μm)</text>
<text x="515.3" y="666.0" font-size="18.5" text-anchor="middle" fill="#111" textLength="100.6" lengthAdjust="spacingAndGlyphs" transform="rotate(-90 515.3 666.0)">Friction (mN)</text>
<rect x="433.0" y="597.2" width="226.8" height="182.8" fill="none" stroke="#000" stroke-width="1.9"/>
<line x1="429.0" y1="610.0" x2="433.0" y2="610.0" stroke="#000" stroke-width="1.5"/>
<line x1="429.0" y1="649.1" x2="433.0" y2="649.1" stroke="#000" stroke-width="1.5"/>
<line x1="429.0" y1="688.2" x2="433.0" y2="688.2" stroke="#000" stroke-width="1.5"/>
<line x1="429.0" y1="727.3" x2="433.0" y2="727.3" stroke="#000" stroke-width="1.5"/>
<line x1="429.0" y1="766.4" x2="433.0" y2="766.4" stroke="#000" stroke-width="1.5"/>
<line x1="430.5" y1="629.5" x2="433.0" y2="629.5" stroke="#000" stroke-width="1.35"/>
<line x1="430.5" y1="668.6" x2="433.0" y2="668.6" stroke="#000" stroke-width="1.35"/>
<line x1="430.5" y1="707.7" x2="433.0" y2="707.7" stroke="#000" stroke-width="1.35"/>
<line x1="430.5" y1="746.8" x2="433.0" y2="746.8" stroke="#000" stroke-width="1.35"/>
<line x1="455.7" y1="780.0" x2="455.7" y2="784.0" stroke="#000" stroke-width="1.5"/>
<line x1="501.0" y1="780.0" x2="501.0" y2="784.0" stroke="#000" stroke-width="1.5"/>
<line x1="546.4" y1="780.0" x2="546.4" y2="784.0" stroke="#000" stroke-width="1.5"/>
<line x1="591.8" y1="780.0" x2="591.8" y2="784.0" stroke="#000" stroke-width="1.5"/>
<line x1="637.1" y1="780.0" x2="637.1" y2="784.0" stroke="#000" stroke-width="1.5"/>
<line x1="478.4" y1="780.0" x2="478.4" y2="782.5" stroke="#000" stroke-width="1.35"/>
<line x1="523.7" y1="780.0" x2="523.7" y2="782.5" stroke="#000" stroke-width="1.35"/>
<line x1="569.1" y1="780.0" x2="569.1" y2="782.5" stroke="#000" stroke-width="1.35"/>
<line x1="614.4" y1="780.0" x2="614.4" y2="782.5" stroke="#000" stroke-width="1.35"/>
<text x="426.5" y="617.0" font-size="20" text-anchor="end" fill="#111" textLength="41.2" lengthAdjust="spacingAndGlyphs">1500</text>
<text x="426.5" y="656.1" font-size="20" text-anchor="end" fill="#111" textLength="41.2" lengthAdjust="spacingAndGlyphs">1200</text>
<text x="426.5" y="695.2" font-size="20" text-anchor="end" fill="#111" textLength="30.9" lengthAdjust="spacingAndGlyphs">900</text>
<text x="426.5" y="734.3" font-size="20" text-anchor="end" fill="#111" textLength="30.9" lengthAdjust="spacingAndGlyphs">600</text>
<text x="426.5" y="773.4" font-size="20" text-anchor="end" fill="#111" textLength="30.9" lengthAdjust="spacingAndGlyphs">300</text>
<text x="455.7" y="809.0" font-size="20" text-anchor="middle" fill="#111" textLength="35.8" lengthAdjust="spacingAndGlyphs">0.07</text>
<text x="501.0" y="809.0" font-size="20" text-anchor="middle" fill="#111" textLength="25.5" lengthAdjust="spacingAndGlyphs">1.6</text>
<text x="546.4" y="809.0" font-size="20" text-anchor="middle" fill="#111" textLength="25.5" lengthAdjust="spacingAndGlyphs">3.2</text>
<text x="591.8" y="809.0" font-size="20" text-anchor="middle" fill="#111" textLength="25.5" lengthAdjust="spacingAndGlyphs">6.3</text>
<text x="637.1" y="809.0" font-size="20" text-anchor="middle" fill="#111" textLength="35.8" lengthAdjust="spacingAndGlyphs">12.3</text>
<text x="546.0" y="833.6" font-size="21.5" text-anchor="middle" fill="#111" textLength="173.4" lengthAdjust="spacingAndGlyphs">Roughness Ra (μm)</text>
<text x="376.8" y="692.5" font-size="20.5" text-anchor="middle" fill="#111" textLength="116.0" lengthAdjust="spacingAndGlyphs" transform="rotate(-90 376.8 692.5)">Friction (mN)</text>
<text x="602.7" y="615.0" font-size="21" text-anchor="start" fill="#111" textLength="54.5" lengthAdjust="spacingAndGlyphs">200°C</text>
<text x="675.3" y="592.0" font-size="28" text-anchor="start" fill="#111">i</text>
<g>
<polyline points="781.4,618.3 827.5,760.4 873.6,771.2 919.8,774.8 965.9,777.2" fill="none" stroke="#2b2b2b" stroke-width="1.3" stroke-linejoin="round"/>
<rect x="779.5" y="616.4" width="3.8" height="3.8" fill="#2b2b2b"/>
<rect x="825.6" y="758.5" width="3.8" height="3.8" fill="#2b2b2b"/>
<rect x="871.8" y="769.3" width="3.8" height="3.8" fill="#2b2b2b"/>
<rect x="917.9" y="772.9" width="3.8" height="3.8" fill="#2b2b2b"/>
<rect x="964.0" y="775.3" width="3.8" height="3.8" fill="#2b2b2b"/>
</g>
<g>
<polyline points="781.4,666.3 827.5,762.3 873.6,771.9 919.8,769.5 965.9,766.4" fill="none" stroke="#f0262a" stroke-width="1.3" stroke-linejoin="round"/>
<circle cx="781.4" cy="666.3" r="2.1" fill="#f0262a"/>
<circle cx="827.5" cy="762.3" r="2.1" fill="#f0262a"/>
<circle cx="873.6" cy="771.9" r="2.1" fill="#f0262a"/>
<circle cx="919.8" cy="769.5" r="2.1" fill="#f0262a"/>
<circle cx="965.9" cy="766.4" r="2.1" fill="#f0262a"/>
</g>
<g>
<polyline points="781.4,683.6 827.5,763.3 873.6,775.3 919.8,768.8 965.9,765.7" fill="none" stroke="#1a5fe0" stroke-width="1.3" stroke-linejoin="round"/>
<path d="M781.4 681.1L783.6 685.3L779.1 685.3Z" fill="#1a5fe0"/>
<path d="M827.5 760.8L829.8 765.0L825.2 765.0Z" fill="#1a5fe0"/>
<path d="M873.6 772.8L875.9 777.0L871.4 777.0Z" fill="#1a5fe0"/>
<path d="M919.8 766.3L922.1 770.5L917.5 770.5Z" fill="#1a5fe0"/>
<path d="M965.9 763.2L968.2 767.4L963.6 767.4Z" fill="#1a5fe0"/>
</g>
<g>
<polyline points="781.4,699.9 827.5,765.2 873.6,776.0 919.8,774.8 965.9,767.6" fill="none" stroke="#22a557" stroke-width="1.3" stroke-linejoin="round"/>
<path d="M781.4 702.4L783.6 698.2L779.1 698.2Z" fill="#22a557"/>
<path d="M827.5 767.7L829.8 763.5L825.2 763.5Z" fill="#22a557"/>
<path d="M873.6 778.5L875.9 774.3L871.4 774.3Z" fill="#22a557"/>
<path d="M919.8 777.3L922.1 773.1L917.5 773.1Z" fill="#22a557"/>
<path d="M965.9 770.1L968.2 765.9L963.6 765.9Z" fill="#22a557"/>
</g>
<g>
<polyline points="781.4,707.1 827.5,768.8 873.6,779.1 919.8,776.7 965.9,768.1" fill="none" stroke="#a569e8" stroke-width="1.3" stroke-linejoin="round"/>
<path d="M781.4 704.4L783.5 707.1L781.4 709.8L779.3 707.1Z" fill="#a569e8"/>
<path d="M827.5 766.1L829.6 768.8L827.5 771.5L825.4 768.8Z" fill="#a569e8"/>
<path d="M873.6 776.4L875.7 779.1L873.6 781.8L871.6 779.1Z" fill="#a569e8"/>
<path d="M919.8 774.0L921.9 776.7L919.8 779.4L917.7 776.7Z" fill="#a569e8"/>
<path d="M965.9 765.4L968.0 768.1L965.9 770.8L963.8 768.1Z" fill="#a569e8"/>
</g>
<rect x="819.7" y="758.5" width="153.6" height="23.5" fill="#b4b4b4" fill-opacity="0.5"/>
<line x1="819.7" y1="781.3" x2="973.3" y2="781.3" stroke="#f07070" stroke-width="1"/>
<rect x="872.5" y="629.4" width="84.5" height="76.2" fill="#fff"/>
<clipPath id="cl5"><rect x="873.0" y="629.9" width="83.5" height="75.2"/></clipPath>
<g clip-path="url(#cl5)">
<polyline points="872.5,628.0 876.1,666.0 902.0,699.0 927.6,694.9 953.2,667.7" fill="none" stroke="#a569e8" stroke-width="1.3"/>
<path d="M876.1 663.8L877.9 666.0L876.1 668.2L874.3 666.0Z" fill="#a569e8"/>
<path d="M902.0 696.8L903.8 699.0L902.0 701.2L900.2 699.0Z" fill="#a569e8"/>
<path d="M927.6 692.7L929.4 694.9L927.6 697.1L925.8 694.9Z" fill="#a569e8"/>
<path d="M953.2 665.5L955.0 667.7L953.2 669.9L951.4 667.7Z" fill="#a569e8"/>
<path d="M876.1 661.0V671.0M874.3 661.0H877.9M874.3 671.0H877.9" stroke="#a569e8" stroke-width="1.1" fill="none"/>
<path d="M902.0 696.0V702.0M900.2 696.0H903.8M900.2 702.0H903.8" stroke="#a569e8" stroke-width="1.1" fill="none"/>
</g>
<g clip-path="url(#cl5)">
<polyline points="872.5,628.0 876.1,654.1 902.0,690.4 927.6,688.8 953.2,665.2" fill="none" stroke="#22a557" stroke-width="1.3"/>
<path d="M876.1 656.2L878.0 652.7L874.2 652.7Z" fill="#22a557"/>
<path d="M902.0 692.5L903.9 689.0L900.1 689.0Z" fill="#22a557"/>
<path d="M927.6 690.9L929.5 687.4L925.7 687.4Z" fill="#22a557"/>
<path d="M953.2 667.3L955.1 663.8L951.3 663.8Z" fill="#22a557"/>
</g>
<g clip-path="url(#cl5)">
<polyline points="872.5,628.0 876.1,649.5 902.0,688.3 927.6,670.1 953.2,659.7" fill="none" stroke="#1a5fe0" stroke-width="1.3"/>
<path d="M876.1 647.4L878.0 650.9L874.2 650.9Z" fill="#1a5fe0"/>
<path d="M902.0 686.2L903.9 689.7L900.1 689.7Z" fill="#1a5fe0"/>
<path d="M927.6 668.0L929.5 671.5L925.7 671.5Z" fill="#1a5fe0"/>
<path d="M953.2 657.6L955.1 661.1L951.3 661.1Z" fill="#1a5fe0"/>
</g>
<g clip-path="url(#cl5)">
<polyline points="872.5,628.0 876.1,645.4 902.0,676.2 927.6,667.3 953.2,658.1" fill="none" stroke="#f0262a" stroke-width="1.3"/>
<circle cx="876.1" cy="645.4" r="1.8" fill="#f0262a"/>
<circle cx="902.0" cy="676.2" r="1.8" fill="#f0262a"/>
<circle cx="927.6" cy="667.3" r="1.8" fill="#f0262a"/>
<circle cx="953.2" cy="658.1" r="1.8" fill="#f0262a"/>
<path d="M902.0 673.2V679.2M900.2 673.2H903.8M900.2 679.2H903.8" stroke="#f0262a" stroke-width="1.1" fill="none"/>
</g>
<g clip-path="url(#cl5)">
<polyline points="872.5,628.0 876.1,638.0 902.0,674.3 927.6,685.0 953.2,694.9" fill="none" stroke="#2b2b2b" stroke-width="1.3"/>
<rect x="874.5" y="636.4" width="3.2" height="3.2" fill="#2b2b2b"/>
<rect x="900.4" y="672.7" width="3.2" height="3.2" fill="#2b2b2b"/>
<rect x="926.0" y="683.4" width="3.2" height="3.2" fill="#2b2b2b"/>
<rect x="951.6" y="693.3" width="3.2" height="3.2" fill="#2b2b2b"/>
<path d="M876.1 635.0V641.0M874.3 635.0H877.9M874.3 641.0H877.9" stroke="#2b2b2b" stroke-width="1.1" fill="none"/>
<path d="M902.0 671.3V677.3M900.2 671.3H903.8M900.2 677.3H903.8" stroke="#2b2b2b" stroke-width="1.1" fill="none"/>
<path d="M927.6 682.0V688.0M925.8 682.0H929.4M925.8 688.0H929.4" stroke="#2b2b2b" stroke-width="1.1" fill="none"/>
<path d="M953.2 691.9V697.9M951.4 691.9H955.0M951.4 697.9H955.0" stroke="#2b2b2b" stroke-width="1.1" fill="none"/>
</g>
<rect x="872.5" y="629.4" width="84.5" height="76.2" fill="none" stroke="#000" stroke-width="1.5"/>
<line x1="869.3" y1="647.0" x2="872.5" y2="647.0" stroke="#000" stroke-width="1.2"/>
<line x1="869.3" y1="669.3" x2="872.5" y2="669.3" stroke="#000" stroke-width="1.2"/>
<line x1="869.3" y1="691.6" x2="872.5" y2="691.6" stroke="#000" stroke-width="1.2"/>
<line x1="870.5" y1="636.0" x2="872.5" y2="636.0" stroke="#000" stroke-width="1.08"/>
<line x1="870.5" y1="658.1" x2="872.5" y2="658.1" stroke="#000" stroke-width="1.08"/>
<line x1="870.5" y1="680.5" x2="872.5" y2="680.5" stroke="#000" stroke-width="1.08"/>
<line x1="870.5" y1="702.6" x2="872.5" y2="702.6" stroke="#000" stroke-width="1.08"/>
<line x1="876.1" y1="705.6" x2="876.1" y2="708.8" stroke="#000" stroke-width="1.2"/>
<line x1="902.0" y1="705.6" x2="902.0" y2="708.8" stroke="#000" stroke-width="1.2"/>
<line x1="927.6" y1="705.6" x2="927.6" y2="708.8" stroke="#000" stroke-width="1.2"/>
<line x1="953.2" y1="705.6" x2="953.2" y2="708.8" stroke="#000" stroke-width="1.2"/>
<line x1="889.0" y1="705.6" x2="889.0" y2="707.6" stroke="#000" stroke-width="1.08"/>
<line x1="914.8" y1="705.6" x2="914.8" y2="707.6" stroke="#000" stroke-width="1.08"/>
<line x1="940.4" y1="705.6" x2="940.4" y2="707.6" stroke="#000" stroke-width="1.08"/>
<text x="867.2" y="652.4" font-size="16" text-anchor="end" fill="#111" textLength="23.5" lengthAdjust="spacingAndGlyphs">350</text>
<text x="867.2" y="674.7" font-size="16" text-anchor="end" fill="#111" textLength="23.5" lengthAdjust="spacingAndGlyphs">300</text>
<text x="867.2" y="697.0" font-size="16" text-anchor="end" fill="#111" textLength="23.5" lengthAdjust="spacingAndGlyphs">250</text>
<text x="876.1" y="723.0" font-size="15" text-anchor="middle" fill="#111" textLength="19.5" lengthAdjust="spacingAndGlyphs">1.6</text>
<text x="902.0" y="723.0" font-size="15" text-anchor="middle" fill="#111" textLength="19.5" lengthAdjust="spacingAndGlyphs">3.2</text>
<text x="927.6" y="723.0" font-size="15" text-anchor="middle" fill="#111" textLength="19.5" lengthAdjust="spacingAndGlyphs">6.3</text>
<text x="953.2" y="723.0" font-size="15" text-anchor="middle" fill="#111" textLength="26.0" lengthAdjust="spacingAndGlyphs">12.3</text>
<text x="914.5" y="745.2" font-size="19" text-anchor="middle" fill="#111" textLength="126.2" lengthAdjust="spacingAndGlyphs">Roughness (μm)</text>
<text x="838.5" y="667.3" font-size="18.5" text-anchor="middle" fill="#111" textLength="106.5" lengthAdjust="spacingAndGlyphs" transform="rotate(-90 838.5 667.3)">Friction (mN)</text>
<rect x="758.3" y="597.8" width="230.7" height="186.0" fill="none" stroke="#000" stroke-width="1.9"/>
<line x1="754.3" y1="640.5" x2="758.3" y2="640.5" stroke="#000" stroke-width="1.5"/>
<line x1="754.3" y1="683.3" x2="758.3" y2="683.3" stroke="#000" stroke-width="1.5"/>
<line x1="754.3" y1="726.0" x2="758.3" y2="726.0" stroke="#000" stroke-width="1.5"/>
<line x1="754.3" y1="768.8" x2="758.3" y2="768.8" stroke="#000" stroke-width="1.5"/>
<line x1="755.8" y1="619.2" x2="758.3" y2="619.2" stroke="#000" stroke-width="1.35"/>
<line x1="755.8" y1="662.0" x2="758.3" y2="662.0" stroke="#000" stroke-width="1.35"/>
<line x1="755.8" y1="704.7" x2="758.3" y2="704.7" stroke="#000" stroke-width="1.35"/>
<line x1="755.8" y1="747.5" x2="758.3" y2="747.5" stroke="#000" stroke-width="1.35"/>
<line x1="781.4" y1="783.8" x2="781.4" y2="787.8" stroke="#000" stroke-width="1.5"/>
<line x1="827.5" y1="783.8" x2="827.5" y2="787.8" stroke="#000" stroke-width="1.5"/>
<line x1="873.6" y1="783.8" x2="873.6" y2="787.8" stroke="#000" stroke-width="1.5"/>
<line x1="919.8" y1="783.8" x2="919.8" y2="787.8" stroke="#000" stroke-width="1.5"/>
<line x1="965.9" y1="783.8" x2="965.9" y2="787.8" stroke="#000" stroke-width="1.5"/>
<line x1="804.4" y1="783.8" x2="804.4" y2="786.3" stroke="#000" stroke-width="1.35"/>
<line x1="850.6" y1="783.8" x2="850.6" y2="786.3" stroke="#000" stroke-width="1.35"/>
<line x1="896.7" y1="783.8" x2="896.7" y2="786.3" stroke="#000" stroke-width="1.35"/>
<line x1="942.9" y1="783.8" x2="942.9" y2="786.3" stroke="#000" stroke-width="1.35"/>
<text x="751.8" y="604.8" font-size="20" text-anchor="end" fill="#111" textLength="41.2" lengthAdjust="spacingAndGlyphs">1500</text>
<text x="751.8" y="647.5" font-size="20" text-anchor="end" fill="#111" textLength="41.2" lengthAdjust="spacingAndGlyphs">1200</text>
<text x="751.8" y="690.3" font-size="20" text-anchor="end" fill="#111" textLength="30.9" lengthAdjust="spacingAndGlyphs">900</text>
<text x="751.8" y="733.0" font-size="20" text-anchor="end" fill="#111" textLength="30.9" lengthAdjust="spacingAndGlyphs">600</text>
<text x="751.8" y="775.8" font-size="20" text-anchor="end" fill="#111" textLength="30.9" lengthAdjust="spacingAndGlyphs">300</text>
<text x="781.4" y="810.0" font-size="20" text-anchor="middle" fill="#111" textLength="35.8" lengthAdjust="spacingAndGlyphs">0.07</text>
<text x="827.5" y="810.0" font-size="20" text-anchor="middle" fill="#111" textLength="25.5" lengthAdjust="spacingAndGlyphs">1.6</text>
<text x="873.6" y="810.0" font-size="20" text-anchor="middle" fill="#111" textLength="25.5" lengthAdjust="spacingAndGlyphs">3.2</text>
<text x="919.8" y="810.0" font-size="20" text-anchor="middle" fill="#111" textLength="25.5" lengthAdjust="spacingAndGlyphs">6.3</text>
<text x="965.9" y="810.0" font-size="20" text-anchor="middle" fill="#111" textLength="35.8" lengthAdjust="spacingAndGlyphs">12.3</text>
<text x="873.8" y="833.6" font-size="21.5" text-anchor="middle" fill="#111" textLength="161.0" lengthAdjust="spacingAndGlyphs">Roughness Ra (μm)</text>
<text x="706.8" y="690.0" font-size="20.5" text-anchor="middle" fill="#111" textLength="115.0" lengthAdjust="spacingAndGlyphs" transform="rotate(-90 706.8 690.0)">Friction (mN)</text>
<text x="930.6" y="615.6" font-size="21" text-anchor="start" fill="#111" textLength="49.9" lengthAdjust="spacingAndGlyphs">250°C</text>
<text x="13.0" y="863.5" font-size="28" text-anchor="start" fill="#111">j</text>
<g>
<polyline points="119.5,898.5 166.5,1029.8 213.5,1043.7 260.5,1048.1 307.5,1048.6" fill="none" stroke="#2b2b2b" stroke-width="1.3" stroke-linejoin="round"/>
<rect x="117.6" y="896.6" width="3.8" height="3.8" fill="#2b2b2b"/>
<rect x="164.6" y="1027.9" width="3.8" height="3.8" fill="#2b2b2b"/>
<rect x="211.6" y="1041.8" width="3.8" height="3.8" fill="#2b2b2b"/>
<rect x="258.6" y="1046.2" width="3.8" height="3.8" fill="#2b2b2b"/>
<rect x="305.6" y="1046.7" width="3.8" height="3.8" fill="#2b2b2b"/>
</g>
<g>
<polyline points="119.5,925.8 166.5,1033.9 213.5,1044.2 260.5,1041.7 307.5,1036.9" fill="none" stroke="#f0262a" stroke-width="1.3" stroke-linejoin="round"/>
<circle cx="119.5" cy="925.8" r="2.1" fill="#f0262a"/>
<circle cx="166.5" cy="1033.9" r="2.1" fill="#f0262a"/>
<circle cx="213.5" cy="1044.2" r="2.1" fill="#f0262a"/>
<circle cx="260.5" cy="1041.7" r="2.1" fill="#f0262a"/>
<circle cx="307.5" cy="1036.9" r="2.1" fill="#f0262a"/>
</g>
<g>
<polyline points="119.5,949.7 166.5,1035.9 213.5,1048.6 260.5,1042.5 307.5,1037.1" fill="none" stroke="#1a5fe0" stroke-width="1.3" stroke-linejoin="round"/>
<path d="M119.5 947.2L121.8 951.4L117.2 951.4Z" fill="#1a5fe0"/>
<path d="M166.5 1033.4L168.8 1037.6L164.2 1037.6Z" fill="#1a5fe0"/>
<path d="M213.5 1046.1L215.8 1050.3L211.2 1050.3Z" fill="#1a5fe0"/>
<path d="M260.5 1040.0L262.8 1044.2L258.2 1044.2Z" fill="#1a5fe0"/>
<path d="M307.5 1034.6L309.8 1038.8L305.2 1038.8Z" fill="#1a5fe0"/>
</g>
<g>
<polyline points="119.5,968.0 166.5,1037.6 213.5,1049.8 260.5,1050.5 307.5,1038.1" fill="none" stroke="#22a557" stroke-width="1.3" stroke-linejoin="round"/>
<path d="M119.5 970.5L121.8 966.3L117.2 966.3Z" fill="#22a557"/>
<path d="M166.5 1040.1L168.8 1035.9L164.2 1035.9Z" fill="#22a557"/>
<path d="M213.5 1052.3L215.8 1048.1L211.2 1048.1Z" fill="#22a557"/>
<path d="M260.5 1053.0L262.8 1048.8L258.2 1048.8Z" fill="#22a557"/>
<path d="M307.5 1040.6L309.8 1036.4L305.2 1036.4Z" fill="#22a557"/>
</g>
<g>
<polyline points="119.5,977.8 166.5,1040.8 213.5,1051.5 260.5,1051.5 307.5,1038.1" fill="none" stroke="#a569e8" stroke-width="1.3" stroke-linejoin="round"/>
<path d="M119.5 975.1L121.6 977.8L119.5 980.5L117.4 977.8Z" fill="#a569e8"/>
<path d="M166.5 1038.1L168.6 1040.8L166.5 1043.5L164.4 1040.8Z" fill="#a569e8"/>
<path d="M213.5 1048.8L215.6 1051.5L213.5 1054.2L211.4 1051.5Z" fill="#a569e8"/>
<path d="M260.5 1048.8L262.6 1051.5L260.5 1054.2L258.4 1051.5Z" fill="#a569e8"/>
<path d="M307.5 1035.4L309.6 1038.1L307.5 1040.8L305.4 1038.1Z" fill="#a569e8"/>
</g>
<rect x="206.7" y="1033.4" width="106.1" height="23.7" fill="#b4b4b4" fill-opacity="0.5"/>
<line x1="206.7" y1="1033.4" x2="206.7" y2="1057.1" stroke="#f07070" stroke-width="1"/>
<line x1="312.8" y1="1033.4" x2="312.8" y2="1057.1" stroke="#f07070" stroke-width="1"/>
<rect x="218.7" y="907" width="86.7" height="77.7" fill="#fff"/>
<clipPath id="cl6"><rect x="219.2" y="907.5" width="85.7" height="76.7"/></clipPath>
<g clip-path="url(#cl6)">
<polyline points="218.7,968.2 223.2,970.5 262.0,973.6 300.3,929.7" fill="none" stroke="#a569e8" stroke-width="1.3"/>
<path d="M223.2 968.3L225.0 970.5L223.2 972.7L221.4 970.5Z" fill="#a569e8"/>
<path d="M262.0 971.4L263.8 973.6L262.0 975.8L260.2 973.6Z" fill="#a569e8"/>
<path d="M300.3 927.5L302.1 929.7L300.3 931.9L298.5 929.7Z" fill="#a569e8"/>
<path d="M262.0 970.6V976.6M260.2 970.6H263.8M260.2 976.6H263.8" stroke="#a569e8" stroke-width="1.1" fill="none"/>
</g>
<g clip-path="url(#cl6)">
<polyline points="218.7,968.2 223.2,969.9 262.0,968.2 300.3,921.2" fill="none" stroke="#22a557" stroke-width="1.3"/>
<path d="M223.2 972.0L225.1 968.5L221.3 968.5Z" fill="#22a557"/>
<path d="M262.0 970.3L263.9 966.8L260.1 966.8Z" fill="#22a557"/>
<path d="M300.3 923.3L302.2 919.8L298.4 919.8Z" fill="#22a557"/>
<path d="M262.0 965.2V971.2M260.2 965.2H263.8M260.2 971.2H263.8" stroke="#22a557" stroke-width="1.1" fill="none"/>
</g>
<g clip-path="url(#cl6)">
<polyline points="218.7,960.9 223.2,963.7 262.0,940.5 300.3,924.6" fill="none" stroke="#1a5fe0" stroke-width="1.3"/>
<path d="M223.2 961.6L225.1 965.1L221.3 965.1Z" fill="#1a5fe0"/>
<path d="M262.0 938.4L263.9 941.9L260.1 941.9Z" fill="#1a5fe0"/>
<path d="M300.3 922.5L302.2 926.0L298.4 926.0Z" fill="#1a5fe0"/>
<path d="M262.0 937.0V944.0M260.2 937.0H263.8M260.2 944.0H263.8" stroke="#1a5fe0" stroke-width="1.1" fill="none"/>
</g>
<g clip-path="url(#cl6)">
<polyline points="218.7,946.4 223.2,949.0 262.0,940.0 300.3,920.6" fill="none" stroke="#f0262a" stroke-width="1.3"/>
<circle cx="223.2" cy="949.0" r="1.8" fill="#f0262a"/>
<circle cx="262.0" cy="940.0" r="1.8" fill="#f0262a"/>
<circle cx="300.3" cy="920.6" r="1.8" fill="#f0262a"/>
<path d="M223.2 944.0V954.0M221.4 944.0H225.0M221.4 954.0H225.0" stroke="#f0262a" stroke-width="1.1" fill="none"/>
<path d="M300.3 914.6V926.6M298.5 914.6H302.1M298.5 926.6H302.1" stroke="#f0262a" stroke-width="1.1" fill="none"/>
</g>
<g clip-path="url(#cl6)">
<polyline points="218.7,943.0 223.2,946.4 262.0,958.8 300.3,962.6" fill="none" stroke="#2b2b2b" stroke-width="1.3"/>
<rect x="221.6" y="944.8" width="3.2" height="3.2" fill="#2b2b2b"/>
<rect x="260.4" y="957.2" width="3.2" height="3.2" fill="#2b2b2b"/>
<rect x="298.7" y="961.0" width="3.2" height="3.2" fill="#2b2b2b"/>
<path d="M223.2 942.9V949.9M221.4 942.9H225.0M221.4 949.9H225.0" stroke="#2b2b2b" stroke-width="1.1" fill="none"/>
<path d="M262.0 954.8V962.8M260.2 954.8H263.8M260.2 962.8H263.8" stroke="#2b2b2b" stroke-width="1.1" fill="none"/>
<path d="M300.3 958.6V966.6M298.5 958.6H302.1M298.5 966.6H302.1" stroke="#2b2b2b" stroke-width="1.1" fill="none"/>
</g>
<rect x="218.7" y="907.0" width="86.7" height="77.7" fill="none" stroke="#000" stroke-width="1.5"/>
<line x1="215.5" y1="908.2" x2="218.7" y2="908.2" stroke="#000" stroke-width="1.2"/>
<line x1="215.5" y1="941.3" x2="218.7" y2="941.3" stroke="#000" stroke-width="1.2"/>
<line x1="215.5" y1="971.6" x2="218.7" y2="971.6" stroke="#000" stroke-width="1.2"/>
<line x1="216.7" y1="924.6" x2="218.7" y2="924.6" stroke="#000" stroke-width="1.08"/>
<line x1="216.7" y1="956.3" x2="218.7" y2="956.3" stroke="#000" stroke-width="1.08"/>
<line x1="223.2" y1="984.7" x2="223.2" y2="987.9" stroke="#000" stroke-width="1.2"/>
<line x1="262.0" y1="984.7" x2="262.0" y2="987.9" stroke="#000" stroke-width="1.2"/>
<line x1="300.3" y1="984.7" x2="300.3" y2="987.9" stroke="#000" stroke-width="1.2"/>
<line x1="242.6" y1="984.7" x2="242.6" y2="986.7" stroke="#000" stroke-width="1.08"/>
<line x1="281.0" y1="984.7" x2="281.0" y2="986.7" stroke="#000" stroke-width="1.08"/>
<text x="213.4" y="913.6" font-size="17" text-anchor="end" fill="#111" textLength="28.5" lengthAdjust="spacingAndGlyphs">330</text>
<text x="213.4" y="946.7" font-size="17" text-anchor="end" fill="#111" textLength="28.5" lengthAdjust="spacingAndGlyphs">275</text>
<text x="213.4" y="977.0" font-size="17" text-anchor="end" fill="#111" textLength="28.5" lengthAdjust="spacingAndGlyphs">220</text>
<text x="223.2" y="1003.4" font-size="16" text-anchor="middle" fill="#111" textLength="21.5" lengthAdjust="spacingAndGlyphs">3.2</text>
<text x="262.0" y="1003.4" font-size="16" text-anchor="middle" fill="#111" textLength="21.5" lengthAdjust="spacingAndGlyphs">6.3</text>
<text x="300.3" y="1003.4" font-size="16" text-anchor="middle" fill="#111" textLength="27.5" lengthAdjust="spacingAndGlyphs">12.3</text>
<text x="262.0" y="1022.9" font-size="19" text-anchor="middle" fill="#111" textLength="127.5" lengthAdjust="spacingAndGlyphs">Roughness (μm)</text>
<text x="176.0" y="946.0" font-size="18.5" text-anchor="middle" fill="#111" textLength="108.0" lengthAdjust="spacingAndGlyphs" transform="rotate(-90 176.0 946.0)">Friction (mN)</text>
<rect x="96.0" y="874.0" width="235.0" height="189.7" fill="none" stroke="#000" stroke-width="1.9"/>
<line x1="92.0" y1="916.8" x2="96.0" y2="916.8" stroke="#000" stroke-width="1.5"/>
<line x1="92.0" y1="960.0" x2="96.0" y2="960.0" stroke="#000" stroke-width="1.5"/>
<line x1="92.0" y1="1003.2" x2="96.0" y2="1003.2" stroke="#000" stroke-width="1.5"/>
<line x1="92.0" y1="1046.4" x2="96.0" y2="1046.4" stroke="#000" stroke-width="1.5"/>
<line x1="93.5" y1="895.2" x2="96.0" y2="895.2" stroke="#000" stroke-width="1.35"/>
<line x1="93.5" y1="938.4" x2="96.0" y2="938.4" stroke="#000" stroke-width="1.35"/>
<line x1="93.5" y1="981.6" x2="96.0" y2="981.6" stroke="#000" stroke-width="1.35"/>
<line x1="93.5" y1="1024.8" x2="96.0" y2="1024.8" stroke="#000" stroke-width="1.35"/>
<line x1="119.5" y1="1063.7" x2="119.5" y2="1067.7" stroke="#000" stroke-width="1.5"/>
<line x1="166.5" y1="1063.7" x2="166.5" y2="1067.7" stroke="#000" stroke-width="1.5"/>
<line x1="213.5" y1="1063.7" x2="213.5" y2="1067.7" stroke="#000" stroke-width="1.5"/>
<line x1="260.5" y1="1063.7" x2="260.5" y2="1067.7" stroke="#000" stroke-width="1.5"/>
<line x1="307.5" y1="1063.7" x2="307.5" y2="1067.7" stroke="#000" stroke-width="1.5"/>
<line x1="143.0" y1="1063.7" x2="143.0" y2="1066.2" stroke="#000" stroke-width="1.35"/>
<line x1="190.0" y1="1063.7" x2="190.0" y2="1066.2" stroke="#000" stroke-width="1.35"/>
<line x1="237.0" y1="1063.7" x2="237.0" y2="1066.2" stroke="#000" stroke-width="1.35"/>
<line x1="284.0" y1="1063.7" x2="284.0" y2="1066.2" stroke="#000" stroke-width="1.35"/>
<text x="89.5" y="880.6" font-size="20" text-anchor="end" fill="#111" textLength="41.2" lengthAdjust="spacingAndGlyphs">1250</text>
<text x="89.5" y="923.8" font-size="20" text-anchor="end" fill="#111" textLength="41.2" lengthAdjust="spacingAndGlyphs">1000</text>
<text x="89.5" y="967.0" font-size="20" text-anchor="end" fill="#111" textLength="30.9" lengthAdjust="spacingAndGlyphs">750</text>
<text x="89.5" y="1010.2" font-size="20" text-anchor="end" fill="#111" textLength="30.9" lengthAdjust="spacingAndGlyphs">500</text>
<text x="89.5" y="1053.4" font-size="20" text-anchor="end" fill="#111" textLength="30.9" lengthAdjust="spacingAndGlyphs">250</text>
<text x="119.5" y="1089.0" font-size="20" text-anchor="middle" fill="#111" textLength="35.8" lengthAdjust="spacingAndGlyphs">0.07</text>
<text x="166.5" y="1089.0" font-size="20" text-anchor="middle" fill="#111" textLength="25.5" lengthAdjust="spacingAndGlyphs">1.6</text>
<text x="213.5" y="1089.0" font-size="20" text-anchor="middle" fill="#111" textLength="25.5" lengthAdjust="spacingAndGlyphs">3.2</text>
<text x="260.5" y="1089.0" font-size="20" text-anchor="middle" fill="#111" textLength="25.5" lengthAdjust="spacingAndGlyphs">6.3</text>
<text x="307.5" y="1089.0" font-size="20" text-anchor="middle" fill="#111" textLength="35.8" lengthAdjust="spacingAndGlyphs">12.3</text>
<text x="214.2" y="1111.8" font-size="21.5" text-anchor="middle" fill="#111" textLength="165.6" lengthAdjust="spacingAndGlyphs">Roughness Ra (μm)</text>
<text x="42.5" y="972.2" font-size="20.5" text-anchor="middle" fill="#111" textLength="120.8" lengthAdjust="spacingAndGlyphs" transform="rotate(-90 42.5 972.2)">Friction (mN)</text>
<text x="272.4" y="893.7" font-size="21" text-anchor="start" fill="#111" textLength="51.0" lengthAdjust="spacingAndGlyphs">300°C</text>
<text x="340.2" y="863.4" font-size="28" text-anchor="start" fill="#111">k</text>
<path d="M367.6 874.4H987.2V1114H367.6" fill="none" stroke="#ec2424" stroke-width="2.9" stroke-dasharray="10.4 8.6" stroke-dashoffset="11"/>
<path d="M367.6 875V1114" fill="none" stroke="#ec2424" stroke-width="2.9" stroke-dasharray="10.4 8.6"/>
<text x="426.6" y="913.8" font-size="22.5" text-anchor="start" fill="#111" font-weight="bold" textLength="48.0" lengthAdjust="spacingAndGlyphs">Slide</text>
<line x1="422.4" y1="928.8" x2="477.0" y2="928.8" stroke="#2f63c9" stroke-width="1.7"/>
<polyline points="471.8,932.3 477.8,928.8 471.8,925.3" fill="none" stroke="#2f63c9" stroke-width="1.7" stroke-linecap="round" stroke-linejoin="round"/>
<path d="M378.2 1021.8L378.2 987.8C387.0 981.9 404.0 981.9 421.0 992.9L473.7 994.6C487.3 984.4 499.2 979.3 511.1 981.0C521.3 982.4 527.3 985.3 529.0 988.7L529.0 1021.8Z" fill="#7a7a7a"/>
<path d="M415.1 946.2L483.1 946.2C485.6 955.5 487.0 972.5 485.6 980.2C482.2 992.9 465.2 1000.6 449.9 1000.6C429.5 1000.6 415.1 992.1 412.5 978.5C411.7 964.0 413.4 953.8 415.1 946.2Z" fill="#f4a872"/>
<line x1="472.5" y1="995.1" x2="495.0" y2="981.9" stroke="#3a6fd0" stroke-width="1.1" stroke-dasharray="3 2"/>
<line x1="472.5" y1="995.1" x2="487.3" y2="1019.3" stroke="#3a6fd0" stroke-width="1.1" stroke-dasharray="3 2"/>
<rect x="471.0" y="993.6" width="3" height="3" fill="none" stroke="#3a6fd0" stroke-width="0.8" transform="rotate(30 472.5 995.1)"/>
<line x1="472.5" y1="995.1" x2="455.1" y2="966.0" stroke="#f03030" stroke-width="1.6"/>
<polyline points="459.4,967.8 454.7,965.4 454.6,970.7" fill="none" stroke="#f03030" stroke-width="1.6" stroke-linecap="round" stroke-linejoin="round"/>
<line x1="472.5" y1="995.1" x2="442.9" y2="1012.4" stroke="#f03030" stroke-width="1.6"/>
<polyline points="444.7,1008.1 442.3,1012.8 447.6,1012.9" fill="none" stroke="#f03030" stroke-width="1.6" stroke-linecap="round" stroke-linejoin="round"/>
<text x="424.5" y="970.8" font-size="24" font-style="italic" fill="#111" style="stroke-width:0.2px">F</text>
<text x="438.5" y="975.8" font-size="17" font-style="italic" fill="#111" style="stroke-width:0.15px" textLength="9.5" lengthAdjust="spacingAndGlyphs">p</text>
<text x="432.0" y="1041.4" font-size="24" font-style="italic" fill="#111" style="stroke-width:0.2px">F</text>
<text x="447.0" y="1045.9" font-size="17" font-style="italic" fill="#111" style="stroke-width:0.15px" textLength="8.5" lengthAdjust="spacingAndGlyphs">a</text>
<line x1="507.7" y1="964.0" x2="532.4" y2="964.0" stroke="#222" stroke-width="1.4"/>
<polyline points="528.2,967.2 533.2,964.0 528.2,960.8" fill="none" stroke="#222" stroke-width="1.4" stroke-linecap="round" stroke-linejoin="round"/>
<rect x="539.5" y="902" width="111.6" height="131" fill="none" stroke="#3f7d2a" stroke-width="1.3" stroke-dasharray="4.2 2.8"/>
<line x1="614.8" y1="926" x2="614.8" y2="974.6" stroke="#f03030" stroke-width="1.3" stroke-dasharray="3.5 2.5"/>
<line x1="593.4" y1="975.2" x2="570" y2="975.2" stroke="#f03030" stroke-width="1.5" stroke-dasharray="4 3"/>
<line x1="593.4" y1="975.2" x2="593.4" y2="1003.4" stroke="#f03030" stroke-width="1.3" stroke-dasharray="3.5 2.5"/>
<line x1="643.4" y1="975.2" x2="594.4" y2="975.2" stroke="#1f9ee0" stroke-width="1.9"/>
<polyline points="597.6,973.0 593.6,975.2 597.6,977.4" fill="none" stroke="#1f9ee0" stroke-width="1.9" stroke-linecap="round" stroke-linejoin="round"/>
<polyline points="619.8,973.3 617.2,975.2 619.8,977.1" fill="none" stroke="#1f9ee0" stroke-width="1"/>
<line x1="643.4" y1="975.2" x2="615.2" y2="924.6" stroke="#f03030" stroke-width="1.6"/>
<polyline points="619.9,926.8 614.8,923.9 614.6,929.7" fill="none" stroke="#f03030" stroke-width="1.6" stroke-linecap="round" stroke-linejoin="round"/>
<line x1="643.4" y1="975.2" x2="594.1" y2="1003.0" stroke="#f03030" stroke-width="1.6"/>
<polyline points="596.3,998.3 593.4,1003.4 599.2,1003.6" fill="none" stroke="#f03030" stroke-width="1.6" stroke-linecap="round" stroke-linejoin="round"/>
<text x="571.0" y="940.6" font-size="23" font-style="italic" fill="#111" style="stroke-width:0.2px">F</text>
<text x="584.4" y="945.6" font-size="18.5" font-style="italic" fill="#111" style="stroke-width:0.15px" textLength="18" lengthAdjust="spacingAndGlyphs">pf</text>
<text x="549.8" y="1016.3" font-size="23" font-style="italic" fill="#111" style="stroke-width:0.2px">F</text>
<text x="564.5" y="1021.3" font-size="18.5" font-style="italic" fill="#111" style="stroke-width:0.15px" textLength="19.5" lengthAdjust="spacingAndGlyphs">af</text>
<text x="434.2" y="1083.8" font-size="24" font-style="italic" fill="#111" style="stroke-width:0.2px">F</text>
<text x="450.5" y="1088.8" font-size="19" font-style="italic" fill="#111" style="stroke-width:0.15px" textLength="7.5" lengthAdjust="spacingAndGlyphs">f</text>
<text x="476.7" y="1083.8" font-size="24" text-anchor="middle" fill="#111" textLength="15.5" lengthAdjust="spacingAndGlyphs">=</text>
<text x="491.8" y="1083.8" font-size="24" font-style="italic" fill="#111" style="stroke-width:0.2px">F</text>
<text x="508.7" y="1088.8" font-size="19" font-style="italic" fill="#111" style="stroke-width:0.15px" textLength="20.5" lengthAdjust="spacingAndGlyphs">pf</text>
<text x="545.2" y="1083.8" font-size="24" text-anchor="middle" fill="#111" textLength="15.5" lengthAdjust="spacingAndGlyphs">+</text>
<text x="558.4" y="1083.8" font-size="24" font-style="italic" fill="#111" style="stroke-width:0.2px">F</text>
<text x="574.4" y="1088.8" font-size="19" font-style="italic" fill="#111" style="stroke-width:0.15px" textLength="20.5" lengthAdjust="spacingAndGlyphs">af</text>
<rect x="879" y="881" width="96" height="110" fill="#fdfcfc"/>
<rect x="879" y="1000" width="96" height="110" fill="#fdfcfc"/>
<defs><linearGradient id="cyl" x1="0" x2="1" y1="0" y2="0"><stop offset="0" stop-color="#a3a3cf"/><stop offset="0.25" stop-color="#e9e9fb"/><stop offset="0.75" stop-color="#dcdcf6"/><stop offset="1" stop-color="#8f8fbb"/></linearGradient><linearGradient id="cyl2" x1="0" x2="1" y1="0" y2="0"><stop offset="0" stop-color="#9494c2"/><stop offset="0.5" stop-color="#bcbce0"/><stop offset="1" stop-color="#9090bc"/></linearGradient></defs>
<text x="690.0" y="907.0" font-size="22.5" text-anchor="start" fill="#111" textLength="46.0" lengthAdjust="spacingAndGlyphs">Slide</text>
<line x1="690.5" y1="917.0" x2="736.7" y2="917.0" stroke="#2f63c9" stroke-width="2"/>
<polyline points="729.5,921.5 737.5,917.0 729.5,912.5" fill="none" stroke="#2f63c9" stroke-width="2" stroke-linecap="round" stroke-linejoin="round"/>
<path d="M672.5 990L672.5 972L678 971L683 967.5L685 971L690 973L695.5 968L700 971L704 970L706.5 967.5L710 970.5L713 972L719 967L724 971L727 970.5L731 967.5L735 971L739 972L744 967.5L748 971L750 972L753 967.5L758 967.2L761 969L761 990Z" fill="#8d8a8a"/>
<rect x="678.2" y="936" width="70.8" height="29" fill="url(#cyl)"/>
<circle cx="683.5" cy="963" r="3.8" fill="#f24a4a"/>
<circle cx="695.8" cy="963" r="3.8" fill="#f24a4a"/>
<circle cx="706.5" cy="963" r="3.8" fill="#f24a4a"/>
<circle cx="719" cy="963" r="3.8" fill="#f24a4a"/>
<circle cx="731.2" cy="963" r="3.8" fill="#f24a4a"/>
<circle cx="744" cy="963" r="3.8" fill="#f24a4a"/>
<circle cx="711.8" cy="948.5" r="10.5" fill="none" stroke="#222" stroke-width="0.9" stroke-dasharray="1.6 1.3"/>
<text x="711.8" y="955.7" font-size="20" text-anchor="middle" fill="#111" style="font-family:'Liberation Sans',sans-serif;stroke-width:0">1</text>
<text x="797.0" y="906.0" font-size="22.5" text-anchor="start" fill="#111" textLength="46.0" lengthAdjust="spacingAndGlyphs">Slide</text>
<line x1="799.0" y1="915.0" x2="844.2" y2="915.0" stroke="#2f63c9" stroke-width="2"/>
<polyline points="837.0,919.5 845.0,915.0 837.0,910.5" fill="none" stroke="#2f63c9" stroke-width="2" stroke-linecap="round" stroke-linejoin="round"/>
<path d="M788 990L788 969L789.5 968L792 973L797 974L800 970L802.5 968L807 973L810 972L813 968L817 972L821 971L825 968L829 972L833 971L837 968.5L841 972L845 970L849 968L852.5 970.5L854 972.5L857 969L860 967.5L864 968L866 970L870 971.5L870 990Z" fill="#8d8a8a"/>
<path d="M790 953Q800 959 809 963H841Q850 959 859.5 953Z" fill="url(#cyl2)"/>
<rect x="790" y="926" width="69.5" height="27" fill="url(#cyl)"/>
<circle cx="813" cy="964" r="3.8" fill="#f24a4a"/>
<circle cx="825.5" cy="964" r="3.8" fill="#f24a4a"/>
<circle cx="837.8" cy="964" r="3.8" fill="#f24a4a"/>
<circle cx="822.0" cy="939.0" r="10.5" fill="none" stroke="#222" stroke-width="0.9" stroke-dasharray="1.6 1.3"/>
<text x="822.0" y="946.2" font-size="20" text-anchor="middle" fill="#111" style="font-family:'Liberation Sans',sans-serif;stroke-width:0">2</text>
<text x="690.0" y="1026.0" font-size="22.5" text-anchor="start" fill="#111" textLength="46.5" lengthAdjust="spacingAndGlyphs">Slide</text>
<line x1="690.0" y1="1033.6" x2="736.4" y2="1033.6" stroke="#2f63c9" stroke-width="2"/>
<polyline points="729.2,1038.1 737.2,1033.6 729.2,1029.1" fill="none" stroke="#2f63c9" stroke-width="2" stroke-linecap="round" stroke-linejoin="round"/>
<path d="M672.1 1103.3L672.1 1071.4L680 1070.3L684 1071C692 1072 694 1088 712 1088.5C730 1089 734 1072 745 1070.5L748.7 1070.3L760.7 1079.8L760.7 1103.3Z" fill="#8d8a8a"/>
<rect x="678" y="1042" width="70.3" height="28.3" fill="url(#cyl)"/>
<ellipse cx="682.2" cy="1068.9" rx="6.5" ry="3.3" fill="#f24a4a"/>
<ellipse cx="743.5" cy="1068.9" rx="6.5" ry="3.3" fill="#f24a4a"/>
<circle cx="711.0" cy="1056.3" r="10.5" fill="none" stroke="#222" stroke-width="0.9" stroke-dasharray="1.6 1.3"/>
<text x="711.0" y="1063.5" font-size="20" text-anchor="middle" fill="#111" style="font-family:'Liberation Sans',sans-serif;stroke-width:0">1</text>
<text x="793.9" y="1024.8" font-size="22.5" text-anchor="start" fill="#111" textLength="46.5" lengthAdjust="spacingAndGlyphs">Slide</text>
<line x1="797.0" y1="1032.5" x2="843.1" y2="1032.5" stroke="#2f63c9" stroke-width="2"/>
<polyline points="835.9,1037.0 843.9,1032.5 835.9,1028.0" fill="none" stroke="#2f63c9" stroke-width="2" stroke-linecap="round" stroke-linejoin="round"/>
<path d="M783.4 1103.3L783.4 1072.4L796 1071.4C806 1080 812 1089.2 822 1089.2C836 1089.2 842 1078 850 1071.4L859 1071.4L870.5 1079.8L870.5 1103.3Z" fill="#8d8a8a"/>
<path d="M788 1070.3Q804 1081.5 822 1081.5Q842 1081.5 857.5 1070.3Z" fill="url(#cyl2)"/>
<rect x="788" y="1041.6" width="69.5" height="28.7" fill="url(#cyl)"/>
<circle cx="797" cy="1074.5" r="3.6" fill="#f24a4a"/>
<circle cx="850.2" cy="1074.5" r="3.6" fill="#f24a4a"/>
<line x1="850.2" y1="1074.5" x2="836.3" y2="1049.0" stroke="#f03030" stroke-width="1.6"/>
<polyline points="840.9,1051.3 835.9,1048.3 835.7,1054.1" fill="none" stroke="#f03030" stroke-width="1.6" stroke-linecap="round" stroke-linejoin="round"/>
<circle cx="820.8" cy="1056.3" r="10.5" fill="none" stroke="#222" stroke-width="0.9" stroke-dasharray="1.6 1.3"/>
<text x="820.8" y="1063.5" font-size="20" text-anchor="middle" fill="#111" style="font-family:'Liberation Sans',sans-serif;stroke-width:0">2</text>
<text x="839.2" y="1098.7" font-size="20" font-style="italic" fill="#111" style="stroke-width:0.2px">F</text>
<text x="852.7" y="1103.7" font-size="15" font-style="italic" fill="#111" style="stroke-width:0.15px" textLength="10" lengthAdjust="spacingAndGlyphs">p</text>
<text x="909.0" y="899.4" font-size="20.5" text-anchor="start" fill="#111" textLength="36.0" lengthAdjust="spacingAndGlyphs">Low</text>
<text x="886.7" y="921.7" font-size="20.5" text-anchor="start" fill="#111" textLength="81.7" lengthAdjust="spacingAndGlyphs">roughness</text>
<text x="912.4" y="953.6" font-size="23.5" font-style="italic" fill="#111" style="stroke-width:0.2px">F</text>
<text x="928.1" y="958.6" font-size="16.5" font-style="italic" fill="#111" style="stroke-width:0.15px" textLength="20" lengthAdjust="spacingAndGlyphs">af</text>
<text x="950.4" y="955.0" font-size="20" text-anchor="start" fill="#111">:</text>
<circle cx="902.6" cy="974.8" r="11.5" fill="none" stroke="#222" stroke-width="0.9" stroke-dasharray="1.6 1.3"/>
<text x="902.6" y="982.0" font-size="20" text-anchor="middle" fill="#111" style="font-family:'Liberation Sans',sans-serif;stroke-width:0">1</text>
<text x="927" y="981.5" font-size="20" text-anchor="middle" fill="#111" style="font-family:'Liberation Sans',sans-serif">&gt;</text>
<circle cx="951.4" cy="974.8" r="11.5" fill="none" stroke="#222" stroke-width="0.9" stroke-dasharray="1.6 1.3"/>
<text x="951.4" y="982.0" font-size="20" text-anchor="middle" fill="#111" style="font-family:'Liberation Sans',sans-serif;stroke-width:0">2</text>
<text x="906.9" y="1019.4" font-size="20.5" text-anchor="start" fill="#111" textLength="38.0" lengthAdjust="spacingAndGlyphs">High</text>
<text x="885.6" y="1042.8" font-size="20.5" text-anchor="start" fill="#111" textLength="81.8" lengthAdjust="spacingAndGlyphs">roughness</text>
<text x="914.5" y="1071.4" font-size="23.5" font-style="italic" fill="#111" style="stroke-width:0.2px">F</text>
<text x="930.2" y="1076.4" font-size="16.5" font-style="italic" fill="#111" style="stroke-width:0.15px" textLength="20" lengthAdjust="spacingAndGlyphs">pf</text>
<text x="952.0" y="1073.0" font-size="20" text-anchor="start" fill="#111">:</text>
<circle cx="905.8" cy="1093.7" r="11.5" fill="none" stroke="#222" stroke-width="0.9" stroke-dasharray="1.6 1.3"/>
<text x="905.8" y="1100.9" font-size="20" text-anchor="middle" fill="#111" style="font-family:'Liberation Sans',sans-serif;stroke-width:0">1</text>
<text x="930.8" y="1100.4" font-size="20" text-anchor="middle" fill="#111" style="font-family:'Liberation Sans',sans-serif">&lt;</text>
<circle cx="954.6" cy="1093.7" r="11.5" fill="none" stroke="#222" stroke-width="0.9" stroke-dasharray="1.6 1.3"/>
<text x="954.6" y="1100.9" font-size="20" text-anchor="middle" fill="#111" style="font-family:'Liberation Sans',sans-serif;stroke-width:0">2</text>
</svg></body></html>
